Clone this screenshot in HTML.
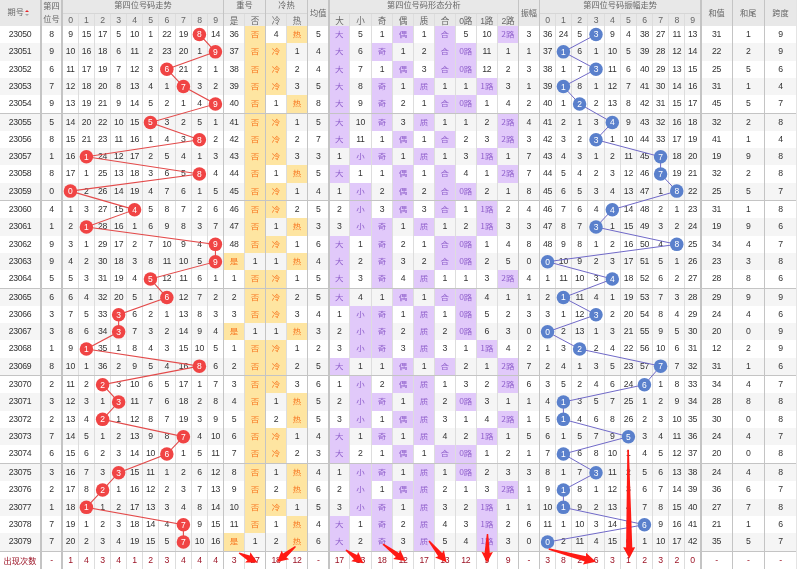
<!DOCTYPE html>
<html lang="zh-CN"><head><meta charset="utf-8"><title>第四位号码走势</title>
<style>
html,body{margin:0;padding:0;background:#fff;overflow:hidden;}
#w{position:relative;width:801px;height:569px;overflow:hidden;background:#fff;
 font-family:"Liberation Sans","Noto Sans CJK SC",sans-serif;font-size:8px;color:#333333;}
#w i{position:absolute;display:block;}
#w b{position:absolute;display:block;text-align:center;font-weight:normal;white-space:nowrap;font-size:8.7px;letter-spacing:-0.3px;}
#w b.h{font-size:8.2px;letter-spacing:0;}
#w b.hg{font-size:8.2px;letter-spacing:0;font-family:"Noto Sans CJK SC",sans-serif;}
#w b.hd{font-size:8.7px;}
#w b.hc{font-size:8.6px;letter-spacing:-0.2px;}
#w b.c{font-family:"Noto Sans CJK SC",sans-serif;font-size:8.5px;letter-spacing:0;transform:scaleY(.84);}
#w svg{position:absolute;left:0;top:0;}
#w .bt{font-family:"Liberation Sans",sans-serif;font-size:8.5px;fill:#fff;text-anchor:middle;}
.srt{display:inline-block;position:relative;width:6px;height:8px;vertical-align:middle;margin-left:1px;}
.srt u{position:absolute;left:0;width:0;height:0;border-left:2.5px solid transparent;border-right:2.5px solid transparent;}
.srt .up{top:0;border-bottom:2.5px solid #e02020;}
.srt .dn{top:4px;border-top:2.5px solid #bbb;}
</style></head><body>
<div id="w">
<i style="left:0.00px;top:0.00px;width:796.00px;height:25.80px;background:#e8e8e8"></i>
<i style="left:0.00px;top:43.17px;width:796.00px;height:17.37px;background:#f5f5f5"></i>
<i style="left:0.00px;top:77.91px;width:796.00px;height:17.37px;background:#f5f5f5"></i>
<i style="left:0.00px;top:113.95px;width:796.00px;height:17.15px;background:#f5f5f5"></i>
<i style="left:0.00px;top:148.25px;width:796.00px;height:17.15px;background:#f5f5f5"></i>
<i style="left:0.00px;top:182.55px;width:796.00px;height:17.15px;background:#f5f5f5"></i>
<i style="left:0.00px;top:218.34px;width:796.00px;height:17.34px;background:#f5f5f5"></i>
<i style="left:0.00px;top:253.03px;width:796.00px;height:17.34px;background:#f5f5f5"></i>
<i style="left:0.00px;top:289.01px;width:796.00px;height:17.14px;background:#f5f5f5"></i>
<i style="left:0.00px;top:323.29px;width:796.00px;height:17.14px;background:#f5f5f5"></i>
<i style="left:0.00px;top:357.56px;width:796.00px;height:17.14px;background:#f5f5f5"></i>
<i style="left:0.00px;top:393.34px;width:796.00px;height:17.34px;background:#f5f5f5"></i>
<i style="left:0.00px;top:428.03px;width:796.00px;height:17.34px;background:#f5f5f5"></i>
<i style="left:0.00px;top:464.01px;width:796.00px;height:17.34px;background:#f5f5f5"></i>
<i style="left:0.00px;top:498.69px;width:796.00px;height:17.34px;background:#f5f5f5"></i>
<i style="left:0.00px;top:533.38px;width:796.00px;height:17.34px;background:#f5f5f5"></i>
<i style="left:245.00px;top:25.80px;width:19.95px;height:17.37px;background:#fee5a1"></i>
<i style="left:287.00px;top:25.80px;width:19.95px;height:17.37px;background:#fee5a1"></i>
<i style="left:329.80px;top:25.80px;width:19.10px;height:17.37px;background:#e1c9fa"></i>
<i style="left:393.25px;top:25.80px;width:19.65px;height:17.37px;background:#e1c9fa"></i>
<i style="left:434.95px;top:25.80px;width:19.85px;height:17.37px;background:#e1c9fa"></i>
<i style="left:497.90px;top:25.80px;width:20.05px;height:17.37px;background:#e1c9fa"></i>
<i style="left:265.95px;top:43.17px;width:20.05px;height:17.37px;background:#fee5a1"></i>
<i style="left:245.00px;top:43.17px;width:19.95px;height:17.37px;background:#fee5a1"></i>
<i style="left:329.80px;top:43.17px;width:19.10px;height:17.37px;background:#e1c9fa"></i>
<i style="left:371.90px;top:43.17px;width:20.35px;height:17.37px;background:#e1c9fa"></i>
<i style="left:434.95px;top:43.17px;width:19.85px;height:17.37px;background:#e1c9fa"></i>
<i style="left:455.80px;top:43.17px;width:19.90px;height:17.37px;background:#e1c9fa"></i>
<i style="left:265.95px;top:60.54px;width:20.05px;height:17.37px;background:#fee5a1"></i>
<i style="left:245.00px;top:60.54px;width:19.95px;height:17.37px;background:#fee5a1"></i>
<i style="left:329.80px;top:60.54px;width:19.10px;height:17.37px;background:#e1c9fa"></i>
<i style="left:393.25px;top:60.54px;width:19.65px;height:17.37px;background:#e1c9fa"></i>
<i style="left:434.95px;top:60.54px;width:19.85px;height:17.37px;background:#e1c9fa"></i>
<i style="left:455.80px;top:60.54px;width:19.90px;height:17.37px;background:#e1c9fa"></i>
<i style="left:265.95px;top:77.91px;width:20.05px;height:17.37px;background:#fee5a1"></i>
<i style="left:245.00px;top:77.91px;width:19.95px;height:17.37px;background:#fee5a1"></i>
<i style="left:329.80px;top:77.91px;width:19.10px;height:17.37px;background:#e1c9fa"></i>
<i style="left:371.90px;top:77.91px;width:20.35px;height:17.37px;background:#e1c9fa"></i>
<i style="left:413.90px;top:77.91px;width:20.05px;height:17.37px;background:#e1c9fa"></i>
<i style="left:476.70px;top:77.91px;width:20.20px;height:17.37px;background:#e1c9fa"></i>
<i style="left:245.00px;top:95.28px;width:19.95px;height:17.37px;background:#fee5a1"></i>
<i style="left:287.00px;top:95.28px;width:19.95px;height:17.37px;background:#fee5a1"></i>
<i style="left:329.80px;top:95.28px;width:19.10px;height:17.37px;background:#e1c9fa"></i>
<i style="left:371.90px;top:95.28px;width:20.35px;height:17.37px;background:#e1c9fa"></i>
<i style="left:434.95px;top:95.28px;width:19.85px;height:17.37px;background:#e1c9fa"></i>
<i style="left:455.80px;top:95.28px;width:19.90px;height:17.37px;background:#e1c9fa"></i>
<i style="left:265.95px;top:113.95px;width:20.05px;height:17.15px;background:#fee5a1"></i>
<i style="left:245.00px;top:113.95px;width:19.95px;height:17.15px;background:#fee5a1"></i>
<i style="left:329.80px;top:113.95px;width:19.10px;height:17.15px;background:#e1c9fa"></i>
<i style="left:371.90px;top:113.95px;width:20.35px;height:17.15px;background:#e1c9fa"></i>
<i style="left:413.90px;top:113.95px;width:20.05px;height:17.15px;background:#e1c9fa"></i>
<i style="left:497.90px;top:113.95px;width:20.05px;height:17.15px;background:#e1c9fa"></i>
<i style="left:265.95px;top:131.10px;width:20.05px;height:17.15px;background:#fee5a1"></i>
<i style="left:245.00px;top:131.10px;width:19.95px;height:17.15px;background:#fee5a1"></i>
<i style="left:329.80px;top:131.10px;width:19.10px;height:17.15px;background:#e1c9fa"></i>
<i style="left:393.25px;top:131.10px;width:19.65px;height:17.15px;background:#e1c9fa"></i>
<i style="left:434.95px;top:131.10px;width:19.85px;height:17.15px;background:#e1c9fa"></i>
<i style="left:497.90px;top:131.10px;width:20.05px;height:17.15px;background:#e1c9fa"></i>
<i style="left:265.95px;top:148.25px;width:20.05px;height:17.15px;background:#fee5a1"></i>
<i style="left:245.00px;top:148.25px;width:19.95px;height:17.15px;background:#fee5a1"></i>
<i style="left:349.90px;top:148.25px;width:21.00px;height:17.15px;background:#e1c9fa"></i>
<i style="left:371.90px;top:148.25px;width:20.35px;height:17.15px;background:#e1c9fa"></i>
<i style="left:413.90px;top:148.25px;width:20.05px;height:17.15px;background:#e1c9fa"></i>
<i style="left:476.70px;top:148.25px;width:20.20px;height:17.15px;background:#e1c9fa"></i>
<i style="left:245.00px;top:165.40px;width:19.95px;height:17.15px;background:#fee5a1"></i>
<i style="left:287.00px;top:165.40px;width:19.95px;height:17.15px;background:#fee5a1"></i>
<i style="left:329.80px;top:165.40px;width:19.10px;height:17.15px;background:#e1c9fa"></i>
<i style="left:393.25px;top:165.40px;width:19.65px;height:17.15px;background:#e1c9fa"></i>
<i style="left:434.95px;top:165.40px;width:19.85px;height:17.15px;background:#e1c9fa"></i>
<i style="left:497.90px;top:165.40px;width:20.05px;height:17.15px;background:#e1c9fa"></i>
<i style="left:265.95px;top:182.55px;width:20.05px;height:17.15px;background:#fee5a1"></i>
<i style="left:245.00px;top:182.55px;width:19.95px;height:17.15px;background:#fee5a1"></i>
<i style="left:349.90px;top:182.55px;width:21.00px;height:17.15px;background:#e1c9fa"></i>
<i style="left:393.25px;top:182.55px;width:19.65px;height:17.15px;background:#e1c9fa"></i>
<i style="left:434.95px;top:182.55px;width:19.85px;height:17.15px;background:#e1c9fa"></i>
<i style="left:455.80px;top:182.55px;width:19.90px;height:17.15px;background:#e1c9fa"></i>
<i style="left:265.95px;top:201.00px;width:20.05px;height:17.34px;background:#fee5a1"></i>
<i style="left:245.00px;top:201.00px;width:19.95px;height:17.34px;background:#fee5a1"></i>
<i style="left:349.90px;top:201.00px;width:21.00px;height:17.34px;background:#e1c9fa"></i>
<i style="left:393.25px;top:201.00px;width:19.65px;height:17.34px;background:#e1c9fa"></i>
<i style="left:434.95px;top:201.00px;width:19.85px;height:17.34px;background:#e1c9fa"></i>
<i style="left:476.70px;top:201.00px;width:20.20px;height:17.34px;background:#e1c9fa"></i>
<i style="left:245.00px;top:218.34px;width:19.95px;height:17.34px;background:#fee5a1"></i>
<i style="left:287.00px;top:218.34px;width:19.95px;height:17.34px;background:#fee5a1"></i>
<i style="left:349.90px;top:218.34px;width:21.00px;height:17.34px;background:#e1c9fa"></i>
<i style="left:371.90px;top:218.34px;width:20.35px;height:17.34px;background:#e1c9fa"></i>
<i style="left:413.90px;top:218.34px;width:20.05px;height:17.34px;background:#e1c9fa"></i>
<i style="left:476.70px;top:218.34px;width:20.20px;height:17.34px;background:#e1c9fa"></i>
<i style="left:265.95px;top:235.68px;width:20.05px;height:17.34px;background:#fee5a1"></i>
<i style="left:245.00px;top:235.68px;width:19.95px;height:17.34px;background:#fee5a1"></i>
<i style="left:329.80px;top:235.68px;width:19.10px;height:17.34px;background:#e1c9fa"></i>
<i style="left:371.90px;top:235.68px;width:20.35px;height:17.34px;background:#e1c9fa"></i>
<i style="left:434.95px;top:235.68px;width:19.85px;height:17.34px;background:#e1c9fa"></i>
<i style="left:455.80px;top:235.68px;width:19.90px;height:17.34px;background:#e1c9fa"></i>
<i style="left:224.15px;top:253.03px;width:19.85px;height:17.34px;background:#fee5a1"></i>
<i style="left:287.00px;top:253.03px;width:19.95px;height:17.34px;background:#fee5a1"></i>
<i style="left:329.80px;top:253.03px;width:19.10px;height:17.34px;background:#e1c9fa"></i>
<i style="left:371.90px;top:253.03px;width:20.35px;height:17.34px;background:#e1c9fa"></i>
<i style="left:434.95px;top:253.03px;width:19.85px;height:17.34px;background:#e1c9fa"></i>
<i style="left:455.80px;top:253.03px;width:19.90px;height:17.34px;background:#e1c9fa"></i>
<i style="left:265.95px;top:270.37px;width:20.05px;height:17.34px;background:#fee5a1"></i>
<i style="left:245.00px;top:270.37px;width:19.95px;height:17.34px;background:#fee5a1"></i>
<i style="left:329.80px;top:270.37px;width:19.10px;height:17.34px;background:#e1c9fa"></i>
<i style="left:371.90px;top:270.37px;width:20.35px;height:17.34px;background:#e1c9fa"></i>
<i style="left:413.90px;top:270.37px;width:20.05px;height:17.34px;background:#e1c9fa"></i>
<i style="left:497.90px;top:270.37px;width:20.05px;height:17.34px;background:#e1c9fa"></i>
<i style="left:265.95px;top:289.01px;width:20.05px;height:17.14px;background:#fee5a1"></i>
<i style="left:245.00px;top:289.01px;width:19.95px;height:17.14px;background:#fee5a1"></i>
<i style="left:329.80px;top:289.01px;width:19.10px;height:17.14px;background:#e1c9fa"></i>
<i style="left:393.25px;top:289.01px;width:19.65px;height:17.14px;background:#e1c9fa"></i>
<i style="left:434.95px;top:289.01px;width:19.85px;height:17.14px;background:#e1c9fa"></i>
<i style="left:455.80px;top:289.01px;width:19.90px;height:17.14px;background:#e1c9fa"></i>
<i style="left:265.95px;top:306.15px;width:20.05px;height:17.14px;background:#fee5a1"></i>
<i style="left:245.00px;top:306.15px;width:19.95px;height:17.14px;background:#fee5a1"></i>
<i style="left:349.90px;top:306.15px;width:21.00px;height:17.14px;background:#e1c9fa"></i>
<i style="left:371.90px;top:306.15px;width:20.35px;height:17.14px;background:#e1c9fa"></i>
<i style="left:413.90px;top:306.15px;width:20.05px;height:17.14px;background:#e1c9fa"></i>
<i style="left:455.80px;top:306.15px;width:19.90px;height:17.14px;background:#e1c9fa"></i>
<i style="left:224.15px;top:323.29px;width:19.85px;height:17.14px;background:#fee5a1"></i>
<i style="left:287.00px;top:323.29px;width:19.95px;height:17.14px;background:#fee5a1"></i>
<i style="left:349.90px;top:323.29px;width:21.00px;height:17.14px;background:#e1c9fa"></i>
<i style="left:371.90px;top:323.29px;width:20.35px;height:17.14px;background:#e1c9fa"></i>
<i style="left:413.90px;top:323.29px;width:20.05px;height:17.14px;background:#e1c9fa"></i>
<i style="left:455.80px;top:323.29px;width:19.90px;height:17.14px;background:#e1c9fa"></i>
<i style="left:265.95px;top:340.42px;width:20.05px;height:17.14px;background:#fee5a1"></i>
<i style="left:245.00px;top:340.42px;width:19.95px;height:17.14px;background:#fee5a1"></i>
<i style="left:349.90px;top:340.42px;width:21.00px;height:17.14px;background:#e1c9fa"></i>
<i style="left:371.90px;top:340.42px;width:20.35px;height:17.14px;background:#e1c9fa"></i>
<i style="left:413.90px;top:340.42px;width:20.05px;height:17.14px;background:#e1c9fa"></i>
<i style="left:476.70px;top:340.42px;width:20.20px;height:17.14px;background:#e1c9fa"></i>
<i style="left:265.95px;top:357.56px;width:20.05px;height:17.14px;background:#fee5a1"></i>
<i style="left:245.00px;top:357.56px;width:19.95px;height:17.14px;background:#fee5a1"></i>
<i style="left:329.80px;top:357.56px;width:19.10px;height:17.14px;background:#e1c9fa"></i>
<i style="left:393.25px;top:357.56px;width:19.65px;height:17.14px;background:#e1c9fa"></i>
<i style="left:434.95px;top:357.56px;width:19.85px;height:17.14px;background:#e1c9fa"></i>
<i style="left:497.90px;top:357.56px;width:20.05px;height:17.14px;background:#e1c9fa"></i>
<i style="left:265.95px;top:376.00px;width:20.05px;height:17.34px;background:#fee5a1"></i>
<i style="left:245.00px;top:376.00px;width:19.95px;height:17.34px;background:#fee5a1"></i>
<i style="left:349.90px;top:376.00px;width:21.00px;height:17.34px;background:#e1c9fa"></i>
<i style="left:393.25px;top:376.00px;width:19.65px;height:17.34px;background:#e1c9fa"></i>
<i style="left:413.90px;top:376.00px;width:20.05px;height:17.34px;background:#e1c9fa"></i>
<i style="left:497.90px;top:376.00px;width:20.05px;height:17.34px;background:#e1c9fa"></i>
<i style="left:245.00px;top:393.34px;width:19.95px;height:17.34px;background:#fee5a1"></i>
<i style="left:287.00px;top:393.34px;width:19.95px;height:17.34px;background:#fee5a1"></i>
<i style="left:349.90px;top:393.34px;width:21.00px;height:17.34px;background:#e1c9fa"></i>
<i style="left:371.90px;top:393.34px;width:20.35px;height:17.34px;background:#e1c9fa"></i>
<i style="left:413.90px;top:393.34px;width:20.05px;height:17.34px;background:#e1c9fa"></i>
<i style="left:455.80px;top:393.34px;width:19.90px;height:17.34px;background:#e1c9fa"></i>
<i style="left:245.00px;top:410.68px;width:19.95px;height:17.34px;background:#fee5a1"></i>
<i style="left:287.00px;top:410.68px;width:19.95px;height:17.34px;background:#fee5a1"></i>
<i style="left:349.90px;top:410.68px;width:21.00px;height:17.34px;background:#e1c9fa"></i>
<i style="left:393.25px;top:410.68px;width:19.65px;height:17.34px;background:#e1c9fa"></i>
<i style="left:413.90px;top:410.68px;width:20.05px;height:17.34px;background:#e1c9fa"></i>
<i style="left:497.90px;top:410.68px;width:20.05px;height:17.34px;background:#e1c9fa"></i>
<i style="left:265.95px;top:428.03px;width:20.05px;height:17.34px;background:#fee5a1"></i>
<i style="left:245.00px;top:428.03px;width:19.95px;height:17.34px;background:#fee5a1"></i>
<i style="left:329.80px;top:428.03px;width:19.10px;height:17.34px;background:#e1c9fa"></i>
<i style="left:371.90px;top:428.03px;width:20.35px;height:17.34px;background:#e1c9fa"></i>
<i style="left:413.90px;top:428.03px;width:20.05px;height:17.34px;background:#e1c9fa"></i>
<i style="left:476.70px;top:428.03px;width:20.20px;height:17.34px;background:#e1c9fa"></i>
<i style="left:265.95px;top:445.37px;width:20.05px;height:17.34px;background:#fee5a1"></i>
<i style="left:245.00px;top:445.37px;width:19.95px;height:17.34px;background:#fee5a1"></i>
<i style="left:329.80px;top:445.37px;width:19.10px;height:17.34px;background:#e1c9fa"></i>
<i style="left:393.25px;top:445.37px;width:19.65px;height:17.34px;background:#e1c9fa"></i>
<i style="left:434.95px;top:445.37px;width:19.85px;height:17.34px;background:#e1c9fa"></i>
<i style="left:455.80px;top:445.37px;width:19.90px;height:17.34px;background:#e1c9fa"></i>
<i style="left:245.00px;top:464.01px;width:19.95px;height:17.34px;background:#fee5a1"></i>
<i style="left:287.00px;top:464.01px;width:19.95px;height:17.34px;background:#fee5a1"></i>
<i style="left:349.90px;top:464.01px;width:21.00px;height:17.34px;background:#e1c9fa"></i>
<i style="left:371.90px;top:464.01px;width:20.35px;height:17.34px;background:#e1c9fa"></i>
<i style="left:413.90px;top:464.01px;width:20.05px;height:17.34px;background:#e1c9fa"></i>
<i style="left:455.80px;top:464.01px;width:19.90px;height:17.34px;background:#e1c9fa"></i>
<i style="left:245.00px;top:481.35px;width:19.95px;height:17.34px;background:#fee5a1"></i>
<i style="left:287.00px;top:481.35px;width:19.95px;height:17.34px;background:#fee5a1"></i>
<i style="left:349.90px;top:481.35px;width:21.00px;height:17.34px;background:#e1c9fa"></i>
<i style="left:393.25px;top:481.35px;width:19.65px;height:17.34px;background:#e1c9fa"></i>
<i style="left:413.90px;top:481.35px;width:20.05px;height:17.34px;background:#e1c9fa"></i>
<i style="left:497.90px;top:481.35px;width:20.05px;height:17.34px;background:#e1c9fa"></i>
<i style="left:265.95px;top:498.69px;width:20.05px;height:17.34px;background:#fee5a1"></i>
<i style="left:245.00px;top:498.69px;width:19.95px;height:17.34px;background:#fee5a1"></i>
<i style="left:349.90px;top:498.69px;width:21.00px;height:17.34px;background:#e1c9fa"></i>
<i style="left:371.90px;top:498.69px;width:20.35px;height:17.34px;background:#e1c9fa"></i>
<i style="left:413.90px;top:498.69px;width:20.05px;height:17.34px;background:#e1c9fa"></i>
<i style="left:476.70px;top:498.69px;width:20.20px;height:17.34px;background:#e1c9fa"></i>
<i style="left:245.00px;top:516.04px;width:19.95px;height:17.34px;background:#fee5a1"></i>
<i style="left:287.00px;top:516.04px;width:19.95px;height:17.34px;background:#fee5a1"></i>
<i style="left:329.80px;top:516.04px;width:19.10px;height:17.34px;background:#e1c9fa"></i>
<i style="left:371.90px;top:516.04px;width:20.35px;height:17.34px;background:#e1c9fa"></i>
<i style="left:413.90px;top:516.04px;width:20.05px;height:17.34px;background:#e1c9fa"></i>
<i style="left:476.70px;top:516.04px;width:20.20px;height:17.34px;background:#e1c9fa"></i>
<i style="left:224.15px;top:533.38px;width:19.85px;height:17.34px;background:#fee5a1"></i>
<i style="left:287.00px;top:533.38px;width:19.95px;height:17.34px;background:#fee5a1"></i>
<i style="left:329.80px;top:533.38px;width:19.10px;height:17.34px;background:#e1c9fa"></i>
<i style="left:371.90px;top:533.38px;width:20.35px;height:17.34px;background:#e1c9fa"></i>
<i style="left:413.90px;top:533.38px;width:20.05px;height:17.34px;background:#e1c9fa"></i>
<i style="left:476.70px;top:533.38px;width:20.20px;height:17.34px;background:#e1c9fa"></i>
<i style="left:40.00px;top:0.00px;width:2.00px;height:569.00px;background:#c4c4c4"></i>
<i style="left:61.00px;top:0.00px;width:2.00px;height:569.00px;background:#c4c4c4"></i>
<i style="left:77.80px;top:13.30px;width:1.00px;height:555.70px;background:#dddddd"></i>
<i style="left:94.00px;top:13.30px;width:1.00px;height:555.70px;background:#dddddd"></i>
<i style="left:110.20px;top:13.30px;width:1.00px;height:555.70px;background:#dddddd"></i>
<i style="left:126.10px;top:13.30px;width:1.00px;height:555.70px;background:#dddddd"></i>
<i style="left:142.00px;top:13.30px;width:1.00px;height:555.70px;background:#dddddd"></i>
<i style="left:157.90px;top:13.30px;width:1.00px;height:555.70px;background:#dddddd"></i>
<i style="left:174.80px;top:13.30px;width:1.00px;height:555.70px;background:#dddddd"></i>
<i style="left:191.00px;top:13.30px;width:1.00px;height:555.70px;background:#dddddd"></i>
<i style="left:206.80px;top:13.30px;width:1.00px;height:555.70px;background:#dddddd"></i>
<i style="left:223.05px;top:0.00px;width:1.10px;height:569.00px;background:#c4c4c4"></i>
<i style="left:244.00px;top:13.30px;width:1.00px;height:555.70px;background:#dddddd"></i>
<i style="left:264.95px;top:0.00px;width:1.00px;height:569.00px;background:#c4c4c4"></i>
<i style="left:286.00px;top:13.30px;width:1.00px;height:555.70px;background:#dddddd"></i>
<i style="left:306.95px;top:0.00px;width:1.30px;height:569.00px;background:#c4c4c4"></i>
<i style="left:328.10px;top:0.00px;width:1.70px;height:569.00px;background:#c4c4c4"></i>
<i style="left:348.90px;top:13.30px;width:1.00px;height:555.70px;background:#dddddd"></i>
<i style="left:370.90px;top:13.30px;width:1.00px;height:555.70px;background:#dddddd"></i>
<i style="left:392.25px;top:13.30px;width:1.00px;height:555.70px;background:#dddddd"></i>
<i style="left:412.90px;top:13.30px;width:1.00px;height:555.70px;background:#dddddd"></i>
<i style="left:433.95px;top:13.30px;width:1.00px;height:555.70px;background:#dddddd"></i>
<i style="left:454.80px;top:13.30px;width:1.00px;height:555.70px;background:#dddddd"></i>
<i style="left:475.70px;top:13.30px;width:1.00px;height:555.70px;background:#dddddd"></i>
<i style="left:496.90px;top:13.30px;width:1.00px;height:555.70px;background:#dddddd"></i>
<i style="left:517.95px;top:0.00px;width:1.10px;height:569.00px;background:#c4c4c4"></i>
<i style="left:538.70px;top:0.00px;width:1.50px;height:569.00px;background:#c4c4c4"></i>
<i style="left:554.90px;top:13.30px;width:1.00px;height:555.70px;background:#dddddd"></i>
<i style="left:570.90px;top:13.30px;width:1.00px;height:555.70px;background:#dddddd"></i>
<i style="left:587.30px;top:13.30px;width:1.00px;height:555.70px;background:#dddddd"></i>
<i style="left:603.70px;top:13.30px;width:1.00px;height:555.70px;background:#dddddd"></i>
<i style="left:619.90px;top:13.30px;width:1.00px;height:555.70px;background:#dddddd"></i>
<i style="left:635.90px;top:13.30px;width:1.00px;height:555.70px;background:#dddddd"></i>
<i style="left:652.00px;top:13.30px;width:1.00px;height:555.70px;background:#dddddd"></i>
<i style="left:668.20px;top:13.30px;width:1.00px;height:555.70px;background:#dddddd"></i>
<i style="left:684.30px;top:13.30px;width:1.00px;height:555.70px;background:#dddddd"></i>
<i style="left:699.95px;top:0.00px;width:1.60px;height:569.00px;background:#c4c4c4"></i>
<i style="left:731.70px;top:0.00px;width:1.00px;height:569.00px;background:#c4c4c4"></i>
<i style="left:763.90px;top:0.00px;width:1.00px;height:569.00px;background:#c4c4c4"></i>
<i style="left:796.00px;top:0.00px;width:1.00px;height:569.00px;background:#e4e4e4"></i>
<i style="left:63.00px;top:12.80px;width:160.05px;height:1.00px;background:#d6d6d6"></i>
<i style="left:224.15px;top:12.80px;width:40.80px;height:1.00px;background:#d6d6d6"></i>
<i style="left:265.95px;top:12.80px;width:41.00px;height:1.00px;background:#d6d6d6"></i>
<i style="left:329.80px;top:12.80px;width:188.15px;height:1.00px;background:#d6d6d6"></i>
<i style="left:540.20px;top:12.80px;width:159.75px;height:1.00px;background:#d6d6d6"></i>
<i style="left:0.00px;top:112.65px;width:796.00px;height:1.30px;background:#c4c4c4"></i>
<i style="left:0.00px;top:199.70px;width:796.00px;height:1.30px;background:#c4c4c4"></i>
<i style="left:0.00px;top:287.71px;width:796.00px;height:1.30px;background:#c4c4c4"></i>
<i style="left:0.00px;top:374.70px;width:796.00px;height:1.30px;background:#c4c4c4"></i>
<i style="left:0.00px;top:462.71px;width:796.00px;height:1.30px;background:#c4c4c4"></i>
<i style="left:0.00px;top:550.72px;width:796.00px;height:1.30px;background:#c4c4c4"></i>
<b class="h" style="left:0.00px;top:0.00px;width:31.60px;height:25.80px;line-height:25.80px;color:#666666">期号</b>
<i style="left:24.9px;top:9.9px;width:0;height:0;border-left:2.6px solid transparent;border-right:2.6px solid transparent;border-bottom:2.3px solid #e8262a"></i>
<i style="left:24.9px;top:13.7px;width:0;height:0;border-left:2.6px solid transparent;border-right:2.6px solid transparent;border-top:2.3px solid #a8a8a8"></i>
<b class="h" style="left:42.0px;top:0.8px;width:19.0px;height:25.8px;line-height:12.7px;color:#666666">第四<br>位号</b>
<b class="hg" style="left:63.00px;top:-1.80px;width:160.05px;height:13.30px;line-height:13.30px;color:#666666">第四位号码走势</b>
<b class="hd" style="left:63.00px;top:14.10px;width:14.80px;height:12.50px;line-height:12.50px;color:#666666">0</b>
<b class="hd" style="left:78.80px;top:14.10px;width:15.20px;height:12.50px;line-height:12.50px;color:#666666">1</b>
<b class="hd" style="left:95.00px;top:14.10px;width:15.20px;height:12.50px;line-height:12.50px;color:#666666">2</b>
<b class="hd" style="left:111.20px;top:14.10px;width:14.90px;height:12.50px;line-height:12.50px;color:#666666">3</b>
<b class="hd" style="left:127.10px;top:14.10px;width:14.90px;height:12.50px;line-height:12.50px;color:#666666">4</b>
<b class="hd" style="left:143.00px;top:14.10px;width:14.90px;height:12.50px;line-height:12.50px;color:#666666">5</b>
<b class="hd" style="left:158.90px;top:14.10px;width:15.90px;height:12.50px;line-height:12.50px;color:#666666">6</b>
<b class="hd" style="left:175.80px;top:14.10px;width:15.20px;height:12.50px;line-height:12.50px;color:#666666">7</b>
<b class="hd" style="left:192.00px;top:14.10px;width:14.80px;height:12.50px;line-height:12.50px;color:#666666">8</b>
<b class="hd" style="left:207.80px;top:14.10px;width:15.25px;height:12.50px;line-height:12.50px;color:#666666">9</b>
<b class="hg" style="left:224.15px;top:-1.80px;width:40.80px;height:13.30px;line-height:13.30px;color:#666666">重号</b>
<b class="hg" style="left:265.95px;top:-1.80px;width:41.00px;height:13.30px;line-height:13.30px;color:#666666">冷热</b>
<b class="hc" style="left:224.15px;top:14.90px;width:19.85px;height:12.50px;line-height:12.50px;color:#666666">是</b>
<b class="hc" style="left:245.00px;top:14.90px;width:19.95px;height:12.50px;line-height:12.50px;color:#666666">否</b>
<b class="hc" style="left:265.95px;top:14.90px;width:20.05px;height:12.50px;line-height:12.50px;color:#666666">冷</b>
<b class="hc" style="left:287.00px;top:14.90px;width:19.95px;height:12.50px;line-height:12.50px;color:#666666">热</b>
<b class="h" style="left:308.25px;top:0.60px;width:19.85px;height:25.80px;line-height:25.80px;color:#666666">均值</b>
<b class="hg" style="left:329.80px;top:-1.80px;width:188.15px;height:13.30px;line-height:13.30px;color:#666666">第四位号码形态分析</b>
<b class="hc" style="left:329.80px;top:14.90px;width:19.10px;height:12.50px;line-height:12.50px;color:#666666">大</b>
<b class="hc" style="left:349.90px;top:14.90px;width:21.00px;height:12.50px;line-height:12.50px;color:#666666">小</b>
<b class="hc" style="left:371.90px;top:14.90px;width:20.35px;height:12.50px;line-height:12.50px;color:#666666">奇</b>
<b class="hc" style="left:393.25px;top:14.90px;width:19.65px;height:12.50px;line-height:12.50px;color:#666666">偶</b>
<b class="hc" style="left:413.90px;top:14.90px;width:20.05px;height:12.50px;line-height:12.50px;color:#666666">质</b>
<b class="hc" style="left:434.95px;top:14.90px;width:19.85px;height:12.50px;line-height:12.50px;color:#666666">合</b>
<b class="hc" style="left:455.80px;top:14.90px;width:19.90px;height:12.50px;line-height:12.50px;color:#666666">0路</b>
<b class="hc" style="left:476.70px;top:14.90px;width:20.20px;height:12.50px;line-height:12.50px;color:#666666">1路</b>
<b class="hc" style="left:497.90px;top:14.90px;width:20.05px;height:12.50px;line-height:12.50px;color:#666666">2路</b>
<b class="h" style="left:519.05px;top:0.60px;width:19.65px;height:25.80px;line-height:25.80px;color:#666666">振幅</b>
<b class="hg" style="left:540.20px;top:-1.80px;width:159.75px;height:13.30px;line-height:13.30px;color:#666666">第四位号码振幅走势</b>
<b class="hd" style="left:540.20px;top:14.10px;width:14.70px;height:12.50px;line-height:12.50px;color:#666666">0</b>
<b class="hd" style="left:555.90px;top:14.10px;width:15.00px;height:12.50px;line-height:12.50px;color:#666666">1</b>
<b class="hd" style="left:571.90px;top:14.10px;width:15.40px;height:12.50px;line-height:12.50px;color:#666666">2</b>
<b class="hd" style="left:588.30px;top:14.10px;width:15.40px;height:12.50px;line-height:12.50px;color:#666666">3</b>
<b class="hd" style="left:604.70px;top:14.10px;width:15.20px;height:12.50px;line-height:12.50px;color:#666666">4</b>
<b class="hd" style="left:620.90px;top:14.10px;width:15.00px;height:12.50px;line-height:12.50px;color:#666666">5</b>
<b class="hd" style="left:636.90px;top:14.10px;width:15.10px;height:12.50px;line-height:12.50px;color:#666666">6</b>
<b class="hd" style="left:653.00px;top:14.10px;width:15.20px;height:12.50px;line-height:12.50px;color:#666666">7</b>
<b class="hd" style="left:669.20px;top:14.10px;width:15.10px;height:12.50px;line-height:12.50px;color:#666666">8</b>
<b class="hd" style="left:685.30px;top:14.10px;width:14.65px;height:12.50px;line-height:12.50px;color:#666666">9</b>
<b class="h" style="left:701.55px;top:0.60px;width:30.15px;height:25.80px;line-height:25.80px;color:#666666">和值</b>
<b class="h" style="left:732.70px;top:0.60px;width:31.20px;height:25.80px;line-height:25.80px;color:#666666">和尾</b>
<b class="h" style="left:764.90px;top:0.60px;width:31.10px;height:25.80px;line-height:25.80px;color:#666666">跨度</b>
<b style="left:0.00px;top:25.80px;width:40.00px;height:17.37px;line-height:17.37px">23050</b>
<b style="left:42.00px;top:25.80px;width:19.00px;height:17.37px;line-height:17.37px">8</b>
<b style="left:63.00px;top:25.80px;width:14.80px;height:17.37px;line-height:17.37px">9</b>
<b style="left:78.80px;top:25.80px;width:15.20px;height:17.37px;line-height:17.37px">15</b>
<b style="left:95.00px;top:25.80px;width:15.20px;height:17.37px;line-height:17.37px">17</b>
<b style="left:111.20px;top:25.80px;width:14.90px;height:17.37px;line-height:17.37px">5</b>
<b style="left:127.10px;top:25.80px;width:14.90px;height:17.37px;line-height:17.37px">10</b>
<b style="left:143.00px;top:25.80px;width:14.90px;height:17.37px;line-height:17.37px">1</b>
<b style="left:158.90px;top:25.80px;width:15.90px;height:17.37px;line-height:17.37px">22</b>
<b style="left:175.80px;top:25.80px;width:15.20px;height:17.37px;line-height:17.37px">19</b>
<b style="left:207.80px;top:25.80px;width:15.25px;height:17.37px;line-height:17.37px">14</b>
<b style="left:224.15px;top:25.80px;width:19.85px;height:17.37px;line-height:17.37px">36</b>
<b style="left:265.95px;top:25.80px;width:20.05px;height:17.37px;line-height:17.37px">4</b>
<b class="c" style="left:245.00px;top:25.80px;width:19.95px;height:17.37px;line-height:17.37px;color:#f7731c">否</b>
<b class="c" style="left:287.00px;top:25.80px;width:19.95px;height:17.37px;line-height:17.37px;color:#f7731c">热</b>
<b style="left:308.25px;top:25.80px;width:19.85px;height:17.37px;line-height:17.37px">5</b>
<b class="c" style="left:329.80px;top:25.80px;width:19.10px;height:17.37px;line-height:17.37px;color:#9060cc">大</b>
<b style="left:349.90px;top:25.80px;width:21.00px;height:17.37px;line-height:17.37px">5</b>
<b style="left:371.90px;top:25.80px;width:20.35px;height:17.37px;line-height:17.37px">1</b>
<b class="c" style="left:393.25px;top:25.80px;width:19.65px;height:17.37px;line-height:17.37px;color:#9060cc">偶</b>
<b style="left:413.90px;top:25.80px;width:20.05px;height:17.37px;line-height:17.37px">1</b>
<b class="c" style="left:434.95px;top:25.80px;width:19.85px;height:17.37px;line-height:17.37px;color:#9060cc">合</b>
<b style="left:455.80px;top:25.80px;width:19.90px;height:17.37px;line-height:17.37px">5</b>
<b style="left:476.70px;top:25.80px;width:20.20px;height:17.37px;line-height:17.37px">10</b>
<b class="c" style="left:497.90px;top:25.80px;width:20.05px;height:17.37px;line-height:17.37px;color:#9060cc">2路</b>
<b style="left:519.05px;top:25.80px;width:19.65px;height:17.37px;line-height:17.37px">3</b>
<b style="left:540.20px;top:25.80px;width:14.70px;height:17.37px;line-height:17.37px">36</b>
<b style="left:555.90px;top:25.80px;width:15.00px;height:17.37px;line-height:17.37px">24</b>
<b style="left:571.90px;top:25.80px;width:15.40px;height:17.37px;line-height:17.37px">5</b>
<b style="left:604.70px;top:25.80px;width:15.20px;height:17.37px;line-height:17.37px">9</b>
<b style="left:620.90px;top:25.80px;width:15.00px;height:17.37px;line-height:17.37px">4</b>
<b style="left:636.90px;top:25.80px;width:15.10px;height:17.37px;line-height:17.37px">38</b>
<b style="left:653.00px;top:25.80px;width:15.20px;height:17.37px;line-height:17.37px">27</b>
<b style="left:669.20px;top:25.80px;width:15.10px;height:17.37px;line-height:17.37px">11</b>
<b style="left:685.30px;top:25.80px;width:14.65px;height:17.37px;line-height:17.37px">13</b>
<b style="left:701.55px;top:25.80px;width:30.15px;height:17.37px;line-height:17.37px">31</b>
<b style="left:732.70px;top:25.80px;width:31.20px;height:17.37px;line-height:17.37px">1</b>
<b style="left:764.90px;top:25.80px;width:31.10px;height:17.37px;line-height:17.37px">9</b>
<b style="left:0.00px;top:43.17px;width:40.00px;height:17.37px;line-height:17.37px">23051</b>
<b style="left:42.00px;top:43.17px;width:19.00px;height:17.37px;line-height:17.37px">9</b>
<b style="left:63.00px;top:43.17px;width:14.80px;height:17.37px;line-height:17.37px">10</b>
<b style="left:78.80px;top:43.17px;width:15.20px;height:17.37px;line-height:17.37px">16</b>
<b style="left:95.00px;top:43.17px;width:15.20px;height:17.37px;line-height:17.37px">18</b>
<b style="left:111.20px;top:43.17px;width:14.90px;height:17.37px;line-height:17.37px">6</b>
<b style="left:127.10px;top:43.17px;width:14.90px;height:17.37px;line-height:17.37px">11</b>
<b style="left:143.00px;top:43.17px;width:14.90px;height:17.37px;line-height:17.37px">2</b>
<b style="left:158.90px;top:43.17px;width:15.90px;height:17.37px;line-height:17.37px">23</b>
<b style="left:175.80px;top:43.17px;width:15.20px;height:17.37px;line-height:17.37px">20</b>
<b style="left:192.00px;top:43.17px;width:14.80px;height:17.37px;line-height:17.37px">1</b>
<b style="left:224.15px;top:43.17px;width:19.85px;height:17.37px;line-height:17.37px">37</b>
<b class="c" style="left:265.95px;top:43.17px;width:20.05px;height:17.37px;line-height:17.37px;color:#f7731c">冷</b>
<b class="c" style="left:245.00px;top:43.17px;width:19.95px;height:17.37px;line-height:17.37px;color:#f7731c">否</b>
<b style="left:287.00px;top:43.17px;width:19.95px;height:17.37px;line-height:17.37px">1</b>
<b style="left:308.25px;top:43.17px;width:19.85px;height:17.37px;line-height:17.37px">4</b>
<b class="c" style="left:329.80px;top:43.17px;width:19.10px;height:17.37px;line-height:17.37px;color:#9060cc">大</b>
<b style="left:349.90px;top:43.17px;width:21.00px;height:17.37px;line-height:17.37px">6</b>
<b class="c" style="left:371.90px;top:43.17px;width:20.35px;height:17.37px;line-height:17.37px;color:#9060cc">奇</b>
<b style="left:393.25px;top:43.17px;width:19.65px;height:17.37px;line-height:17.37px">1</b>
<b style="left:413.90px;top:43.17px;width:20.05px;height:17.37px;line-height:17.37px">2</b>
<b class="c" style="left:434.95px;top:43.17px;width:19.85px;height:17.37px;line-height:17.37px;color:#9060cc">合</b>
<b class="c" style="left:455.80px;top:43.17px;width:19.90px;height:17.37px;line-height:17.37px;color:#9060cc">0路</b>
<b style="left:476.70px;top:43.17px;width:20.20px;height:17.37px;line-height:17.37px">11</b>
<b style="left:497.90px;top:43.17px;width:20.05px;height:17.37px;line-height:17.37px">1</b>
<b style="left:519.05px;top:43.17px;width:19.65px;height:17.37px;line-height:17.37px">1</b>
<b style="left:540.20px;top:43.17px;width:14.70px;height:17.37px;line-height:17.37px">37</b>
<b style="left:571.90px;top:43.17px;width:15.40px;height:17.37px;line-height:17.37px">6</b>
<b style="left:588.30px;top:43.17px;width:15.40px;height:17.37px;line-height:17.37px">1</b>
<b style="left:604.70px;top:43.17px;width:15.20px;height:17.37px;line-height:17.37px">10</b>
<b style="left:620.90px;top:43.17px;width:15.00px;height:17.37px;line-height:17.37px">5</b>
<b style="left:636.90px;top:43.17px;width:15.10px;height:17.37px;line-height:17.37px">39</b>
<b style="left:653.00px;top:43.17px;width:15.20px;height:17.37px;line-height:17.37px">28</b>
<b style="left:669.20px;top:43.17px;width:15.10px;height:17.37px;line-height:17.37px">12</b>
<b style="left:685.30px;top:43.17px;width:14.65px;height:17.37px;line-height:17.37px">14</b>
<b style="left:701.55px;top:43.17px;width:30.15px;height:17.37px;line-height:17.37px">22</b>
<b style="left:732.70px;top:43.17px;width:31.20px;height:17.37px;line-height:17.37px">2</b>
<b style="left:764.90px;top:43.17px;width:31.10px;height:17.37px;line-height:17.37px">9</b>
<b style="left:0.00px;top:60.54px;width:40.00px;height:17.37px;line-height:17.37px">23052</b>
<b style="left:42.00px;top:60.54px;width:19.00px;height:17.37px;line-height:17.37px">6</b>
<b style="left:63.00px;top:60.54px;width:14.80px;height:17.37px;line-height:17.37px">11</b>
<b style="left:78.80px;top:60.54px;width:15.20px;height:17.37px;line-height:17.37px">17</b>
<b style="left:95.00px;top:60.54px;width:15.20px;height:17.37px;line-height:17.37px">19</b>
<b style="left:111.20px;top:60.54px;width:14.90px;height:17.37px;line-height:17.37px">7</b>
<b style="left:127.10px;top:60.54px;width:14.90px;height:17.37px;line-height:17.37px">12</b>
<b style="left:143.00px;top:60.54px;width:14.90px;height:17.37px;line-height:17.37px">3</b>
<b style="left:175.80px;top:60.54px;width:15.20px;height:17.37px;line-height:17.37px">21</b>
<b style="left:192.00px;top:60.54px;width:14.80px;height:17.37px;line-height:17.37px">2</b>
<b style="left:207.80px;top:60.54px;width:15.25px;height:17.37px;line-height:17.37px">1</b>
<b style="left:224.15px;top:60.54px;width:19.85px;height:17.37px;line-height:17.37px">38</b>
<b class="c" style="left:265.95px;top:60.54px;width:20.05px;height:17.37px;line-height:17.37px;color:#f7731c">冷</b>
<b class="c" style="left:245.00px;top:60.54px;width:19.95px;height:17.37px;line-height:17.37px;color:#f7731c">否</b>
<b style="left:287.00px;top:60.54px;width:19.95px;height:17.37px;line-height:17.37px">2</b>
<b style="left:308.25px;top:60.54px;width:19.85px;height:17.37px;line-height:17.37px">4</b>
<b class="c" style="left:329.80px;top:60.54px;width:19.10px;height:17.37px;line-height:17.37px;color:#9060cc">大</b>
<b style="left:349.90px;top:60.54px;width:21.00px;height:17.37px;line-height:17.37px">7</b>
<b style="left:371.90px;top:60.54px;width:20.35px;height:17.37px;line-height:17.37px">1</b>
<b class="c" style="left:393.25px;top:60.54px;width:19.65px;height:17.37px;line-height:17.37px;color:#9060cc">偶</b>
<b style="left:413.90px;top:60.54px;width:20.05px;height:17.37px;line-height:17.37px">3</b>
<b class="c" style="left:434.95px;top:60.54px;width:19.85px;height:17.37px;line-height:17.37px;color:#9060cc">合</b>
<b class="c" style="left:455.80px;top:60.54px;width:19.90px;height:17.37px;line-height:17.37px;color:#9060cc">0路</b>
<b style="left:476.70px;top:60.54px;width:20.20px;height:17.37px;line-height:17.37px">12</b>
<b style="left:497.90px;top:60.54px;width:20.05px;height:17.37px;line-height:17.37px">2</b>
<b style="left:519.05px;top:60.54px;width:19.65px;height:17.37px;line-height:17.37px">3</b>
<b style="left:540.20px;top:60.54px;width:14.70px;height:17.37px;line-height:17.37px">38</b>
<b style="left:555.90px;top:60.54px;width:15.00px;height:17.37px;line-height:17.37px">1</b>
<b style="left:571.90px;top:60.54px;width:15.40px;height:17.37px;line-height:17.37px">7</b>
<b style="left:604.70px;top:60.54px;width:15.20px;height:17.37px;line-height:17.37px">11</b>
<b style="left:620.90px;top:60.54px;width:15.00px;height:17.37px;line-height:17.37px">6</b>
<b style="left:636.90px;top:60.54px;width:15.10px;height:17.37px;line-height:17.37px">40</b>
<b style="left:653.00px;top:60.54px;width:15.20px;height:17.37px;line-height:17.37px">29</b>
<b style="left:669.20px;top:60.54px;width:15.10px;height:17.37px;line-height:17.37px">13</b>
<b style="left:685.30px;top:60.54px;width:14.65px;height:17.37px;line-height:17.37px">15</b>
<b style="left:701.55px;top:60.54px;width:30.15px;height:17.37px;line-height:17.37px">25</b>
<b style="left:732.70px;top:60.54px;width:31.20px;height:17.37px;line-height:17.37px">5</b>
<b style="left:764.90px;top:60.54px;width:31.10px;height:17.37px;line-height:17.37px">6</b>
<b style="left:0.00px;top:77.91px;width:40.00px;height:17.37px;line-height:17.37px">23053</b>
<b style="left:42.00px;top:77.91px;width:19.00px;height:17.37px;line-height:17.37px">7</b>
<b style="left:63.00px;top:77.91px;width:14.80px;height:17.37px;line-height:17.37px">12</b>
<b style="left:78.80px;top:77.91px;width:15.20px;height:17.37px;line-height:17.37px">18</b>
<b style="left:95.00px;top:77.91px;width:15.20px;height:17.37px;line-height:17.37px">20</b>
<b style="left:111.20px;top:77.91px;width:14.90px;height:17.37px;line-height:17.37px">8</b>
<b style="left:127.10px;top:77.91px;width:14.90px;height:17.37px;line-height:17.37px">13</b>
<b style="left:143.00px;top:77.91px;width:14.90px;height:17.37px;line-height:17.37px">4</b>
<b style="left:158.90px;top:77.91px;width:15.90px;height:17.37px;line-height:17.37px">1</b>
<b style="left:192.00px;top:77.91px;width:14.80px;height:17.37px;line-height:17.37px">3</b>
<b style="left:207.80px;top:77.91px;width:15.25px;height:17.37px;line-height:17.37px">2</b>
<b style="left:224.15px;top:77.91px;width:19.85px;height:17.37px;line-height:17.37px">39</b>
<b class="c" style="left:265.95px;top:77.91px;width:20.05px;height:17.37px;line-height:17.37px;color:#f7731c">冷</b>
<b class="c" style="left:245.00px;top:77.91px;width:19.95px;height:17.37px;line-height:17.37px;color:#f7731c">否</b>
<b style="left:287.00px;top:77.91px;width:19.95px;height:17.37px;line-height:17.37px">3</b>
<b style="left:308.25px;top:77.91px;width:19.85px;height:17.37px;line-height:17.37px">5</b>
<b class="c" style="left:329.80px;top:77.91px;width:19.10px;height:17.37px;line-height:17.37px;color:#9060cc">大</b>
<b style="left:349.90px;top:77.91px;width:21.00px;height:17.37px;line-height:17.37px">8</b>
<b class="c" style="left:371.90px;top:77.91px;width:20.35px;height:17.37px;line-height:17.37px;color:#9060cc">奇</b>
<b style="left:393.25px;top:77.91px;width:19.65px;height:17.37px;line-height:17.37px">1</b>
<b class="c" style="left:413.90px;top:77.91px;width:20.05px;height:17.37px;line-height:17.37px;color:#9060cc">质</b>
<b style="left:434.95px;top:77.91px;width:19.85px;height:17.37px;line-height:17.37px">1</b>
<b style="left:455.80px;top:77.91px;width:19.90px;height:17.37px;line-height:17.37px">1</b>
<b class="c" style="left:476.70px;top:77.91px;width:20.20px;height:17.37px;line-height:17.37px;color:#9060cc">1路</b>
<b style="left:497.90px;top:77.91px;width:20.05px;height:17.37px;line-height:17.37px">3</b>
<b style="left:519.05px;top:77.91px;width:19.65px;height:17.37px;line-height:17.37px">1</b>
<b style="left:540.20px;top:77.91px;width:14.70px;height:17.37px;line-height:17.37px">39</b>
<b style="left:571.90px;top:77.91px;width:15.40px;height:17.37px;line-height:17.37px">8</b>
<b style="left:588.30px;top:77.91px;width:15.40px;height:17.37px;line-height:17.37px">1</b>
<b style="left:604.70px;top:77.91px;width:15.20px;height:17.37px;line-height:17.37px">12</b>
<b style="left:620.90px;top:77.91px;width:15.00px;height:17.37px;line-height:17.37px">7</b>
<b style="left:636.90px;top:77.91px;width:15.10px;height:17.37px;line-height:17.37px">41</b>
<b style="left:653.00px;top:77.91px;width:15.20px;height:17.37px;line-height:17.37px">30</b>
<b style="left:669.20px;top:77.91px;width:15.10px;height:17.37px;line-height:17.37px">14</b>
<b style="left:685.30px;top:77.91px;width:14.65px;height:17.37px;line-height:17.37px">16</b>
<b style="left:701.55px;top:77.91px;width:30.15px;height:17.37px;line-height:17.37px">31</b>
<b style="left:732.70px;top:77.91px;width:31.20px;height:17.37px;line-height:17.37px">1</b>
<b style="left:764.90px;top:77.91px;width:31.10px;height:17.37px;line-height:17.37px">4</b>
<b style="left:0.00px;top:95.28px;width:40.00px;height:17.37px;line-height:17.37px">23054</b>
<b style="left:42.00px;top:95.28px;width:19.00px;height:17.37px;line-height:17.37px">9</b>
<b style="left:63.00px;top:95.28px;width:14.80px;height:17.37px;line-height:17.37px">13</b>
<b style="left:78.80px;top:95.28px;width:15.20px;height:17.37px;line-height:17.37px">19</b>
<b style="left:95.00px;top:95.28px;width:15.20px;height:17.37px;line-height:17.37px">21</b>
<b style="left:111.20px;top:95.28px;width:14.90px;height:17.37px;line-height:17.37px">9</b>
<b style="left:127.10px;top:95.28px;width:14.90px;height:17.37px;line-height:17.37px">14</b>
<b style="left:143.00px;top:95.28px;width:14.90px;height:17.37px;line-height:17.37px">5</b>
<b style="left:158.90px;top:95.28px;width:15.90px;height:17.37px;line-height:17.37px">2</b>
<b style="left:175.80px;top:95.28px;width:15.20px;height:17.37px;line-height:17.37px">1</b>
<b style="left:192.00px;top:95.28px;width:14.80px;height:17.37px;line-height:17.37px">4</b>
<b style="left:224.15px;top:95.28px;width:19.85px;height:17.37px;line-height:17.37px">40</b>
<b style="left:265.95px;top:95.28px;width:20.05px;height:17.37px;line-height:17.37px">1</b>
<b class="c" style="left:245.00px;top:95.28px;width:19.95px;height:17.37px;line-height:17.37px;color:#f7731c">否</b>
<b class="c" style="left:287.00px;top:95.28px;width:19.95px;height:17.37px;line-height:17.37px;color:#f7731c">热</b>
<b style="left:308.25px;top:95.28px;width:19.85px;height:17.37px;line-height:17.37px">8</b>
<b class="c" style="left:329.80px;top:95.28px;width:19.10px;height:17.37px;line-height:17.37px;color:#9060cc">大</b>
<b style="left:349.90px;top:95.28px;width:21.00px;height:17.37px;line-height:17.37px">9</b>
<b class="c" style="left:371.90px;top:95.28px;width:20.35px;height:17.37px;line-height:17.37px;color:#9060cc">奇</b>
<b style="left:393.25px;top:95.28px;width:19.65px;height:17.37px;line-height:17.37px">2</b>
<b style="left:413.90px;top:95.28px;width:20.05px;height:17.37px;line-height:17.37px">1</b>
<b class="c" style="left:434.95px;top:95.28px;width:19.85px;height:17.37px;line-height:17.37px;color:#9060cc">合</b>
<b class="c" style="left:455.80px;top:95.28px;width:19.90px;height:17.37px;line-height:17.37px;color:#9060cc">0路</b>
<b style="left:476.70px;top:95.28px;width:20.20px;height:17.37px;line-height:17.37px">1</b>
<b style="left:497.90px;top:95.28px;width:20.05px;height:17.37px;line-height:17.37px">4</b>
<b style="left:519.05px;top:95.28px;width:19.65px;height:17.37px;line-height:17.37px">2</b>
<b style="left:540.20px;top:95.28px;width:14.70px;height:17.37px;line-height:17.37px">40</b>
<b style="left:555.90px;top:95.28px;width:15.00px;height:17.37px;line-height:17.37px">1</b>
<b style="left:588.30px;top:95.28px;width:15.40px;height:17.37px;line-height:17.37px">2</b>
<b style="left:604.70px;top:95.28px;width:15.20px;height:17.37px;line-height:17.37px">13</b>
<b style="left:620.90px;top:95.28px;width:15.00px;height:17.37px;line-height:17.37px">8</b>
<b style="left:636.90px;top:95.28px;width:15.10px;height:17.37px;line-height:17.37px">42</b>
<b style="left:653.00px;top:95.28px;width:15.20px;height:17.37px;line-height:17.37px">31</b>
<b style="left:669.20px;top:95.28px;width:15.10px;height:17.37px;line-height:17.37px">15</b>
<b style="left:685.30px;top:95.28px;width:14.65px;height:17.37px;line-height:17.37px">17</b>
<b style="left:701.55px;top:95.28px;width:30.15px;height:17.37px;line-height:17.37px">45</b>
<b style="left:732.70px;top:95.28px;width:31.20px;height:17.37px;line-height:17.37px">5</b>
<b style="left:764.90px;top:95.28px;width:31.10px;height:17.37px;line-height:17.37px">7</b>
<b style="left:0.00px;top:113.95px;width:40.00px;height:17.15px;line-height:17.15px">23055</b>
<b style="left:42.00px;top:113.95px;width:19.00px;height:17.15px;line-height:17.15px">5</b>
<b style="left:63.00px;top:113.95px;width:14.80px;height:17.15px;line-height:17.15px">14</b>
<b style="left:78.80px;top:113.95px;width:15.20px;height:17.15px;line-height:17.15px">20</b>
<b style="left:95.00px;top:113.95px;width:15.20px;height:17.15px;line-height:17.15px">22</b>
<b style="left:111.20px;top:113.95px;width:14.90px;height:17.15px;line-height:17.15px">10</b>
<b style="left:127.10px;top:113.95px;width:14.90px;height:17.15px;line-height:17.15px">15</b>
<b style="left:158.90px;top:113.95px;width:15.90px;height:17.15px;line-height:17.15px">3</b>
<b style="left:175.80px;top:113.95px;width:15.20px;height:17.15px;line-height:17.15px">2</b>
<b style="left:192.00px;top:113.95px;width:14.80px;height:17.15px;line-height:17.15px">5</b>
<b style="left:207.80px;top:113.95px;width:15.25px;height:17.15px;line-height:17.15px">1</b>
<b style="left:224.15px;top:113.95px;width:19.85px;height:17.15px;line-height:17.15px">41</b>
<b class="c" style="left:265.95px;top:113.95px;width:20.05px;height:17.15px;line-height:17.15px;color:#f7731c">冷</b>
<b class="c" style="left:245.00px;top:113.95px;width:19.95px;height:17.15px;line-height:17.15px;color:#f7731c">否</b>
<b style="left:287.00px;top:113.95px;width:19.95px;height:17.15px;line-height:17.15px">1</b>
<b style="left:308.25px;top:113.95px;width:19.85px;height:17.15px;line-height:17.15px">5</b>
<b class="c" style="left:329.80px;top:113.95px;width:19.10px;height:17.15px;line-height:17.15px;color:#9060cc">大</b>
<b style="left:349.90px;top:113.95px;width:21.00px;height:17.15px;line-height:17.15px">10</b>
<b class="c" style="left:371.90px;top:113.95px;width:20.35px;height:17.15px;line-height:17.15px;color:#9060cc">奇</b>
<b style="left:393.25px;top:113.95px;width:19.65px;height:17.15px;line-height:17.15px">3</b>
<b class="c" style="left:413.90px;top:113.95px;width:20.05px;height:17.15px;line-height:17.15px;color:#9060cc">质</b>
<b style="left:434.95px;top:113.95px;width:19.85px;height:17.15px;line-height:17.15px">1</b>
<b style="left:455.80px;top:113.95px;width:19.90px;height:17.15px;line-height:17.15px">1</b>
<b style="left:476.70px;top:113.95px;width:20.20px;height:17.15px;line-height:17.15px">2</b>
<b class="c" style="left:497.90px;top:113.95px;width:20.05px;height:17.15px;line-height:17.15px;color:#9060cc">2路</b>
<b style="left:519.05px;top:113.95px;width:19.65px;height:17.15px;line-height:17.15px">4</b>
<b style="left:540.20px;top:113.95px;width:14.70px;height:17.15px;line-height:17.15px">41</b>
<b style="left:555.90px;top:113.95px;width:15.00px;height:17.15px;line-height:17.15px">2</b>
<b style="left:571.90px;top:113.95px;width:15.40px;height:17.15px;line-height:17.15px">1</b>
<b style="left:588.30px;top:113.95px;width:15.40px;height:17.15px;line-height:17.15px">3</b>
<b style="left:620.90px;top:113.95px;width:15.00px;height:17.15px;line-height:17.15px">9</b>
<b style="left:636.90px;top:113.95px;width:15.10px;height:17.15px;line-height:17.15px">43</b>
<b style="left:653.00px;top:113.95px;width:15.20px;height:17.15px;line-height:17.15px">32</b>
<b style="left:669.20px;top:113.95px;width:15.10px;height:17.15px;line-height:17.15px">16</b>
<b style="left:685.30px;top:113.95px;width:14.65px;height:17.15px;line-height:17.15px">18</b>
<b style="left:701.55px;top:113.95px;width:30.15px;height:17.15px;line-height:17.15px">32</b>
<b style="left:732.70px;top:113.95px;width:31.20px;height:17.15px;line-height:17.15px">2</b>
<b style="left:764.90px;top:113.95px;width:31.10px;height:17.15px;line-height:17.15px">8</b>
<b style="left:0.00px;top:131.10px;width:40.00px;height:17.15px;line-height:17.15px">23056</b>
<b style="left:42.00px;top:131.10px;width:19.00px;height:17.15px;line-height:17.15px">8</b>
<b style="left:63.00px;top:131.10px;width:14.80px;height:17.15px;line-height:17.15px">15</b>
<b style="left:78.80px;top:131.10px;width:15.20px;height:17.15px;line-height:17.15px">21</b>
<b style="left:95.00px;top:131.10px;width:15.20px;height:17.15px;line-height:17.15px">23</b>
<b style="left:111.20px;top:131.10px;width:14.90px;height:17.15px;line-height:17.15px">11</b>
<b style="left:127.10px;top:131.10px;width:14.90px;height:17.15px;line-height:17.15px">16</b>
<b style="left:143.00px;top:131.10px;width:14.90px;height:17.15px;line-height:17.15px">1</b>
<b style="left:158.90px;top:131.10px;width:15.90px;height:17.15px;line-height:17.15px">4</b>
<b style="left:175.80px;top:131.10px;width:15.20px;height:17.15px;line-height:17.15px">3</b>
<b style="left:207.80px;top:131.10px;width:15.25px;height:17.15px;line-height:17.15px">2</b>
<b style="left:224.15px;top:131.10px;width:19.85px;height:17.15px;line-height:17.15px">42</b>
<b class="c" style="left:265.95px;top:131.10px;width:20.05px;height:17.15px;line-height:17.15px;color:#f7731c">冷</b>
<b class="c" style="left:245.00px;top:131.10px;width:19.95px;height:17.15px;line-height:17.15px;color:#f7731c">否</b>
<b style="left:287.00px;top:131.10px;width:19.95px;height:17.15px;line-height:17.15px">2</b>
<b style="left:308.25px;top:131.10px;width:19.85px;height:17.15px;line-height:17.15px">7</b>
<b class="c" style="left:329.80px;top:131.10px;width:19.10px;height:17.15px;line-height:17.15px;color:#9060cc">大</b>
<b style="left:349.90px;top:131.10px;width:21.00px;height:17.15px;line-height:17.15px">11</b>
<b style="left:371.90px;top:131.10px;width:20.35px;height:17.15px;line-height:17.15px">1</b>
<b class="c" style="left:393.25px;top:131.10px;width:19.65px;height:17.15px;line-height:17.15px;color:#9060cc">偶</b>
<b style="left:413.90px;top:131.10px;width:20.05px;height:17.15px;line-height:17.15px">1</b>
<b class="c" style="left:434.95px;top:131.10px;width:19.85px;height:17.15px;line-height:17.15px;color:#9060cc">合</b>
<b style="left:455.80px;top:131.10px;width:19.90px;height:17.15px;line-height:17.15px">2</b>
<b style="left:476.70px;top:131.10px;width:20.20px;height:17.15px;line-height:17.15px">3</b>
<b class="c" style="left:497.90px;top:131.10px;width:20.05px;height:17.15px;line-height:17.15px;color:#9060cc">2路</b>
<b style="left:519.05px;top:131.10px;width:19.65px;height:17.15px;line-height:17.15px">3</b>
<b style="left:540.20px;top:131.10px;width:14.70px;height:17.15px;line-height:17.15px">42</b>
<b style="left:555.90px;top:131.10px;width:15.00px;height:17.15px;line-height:17.15px">3</b>
<b style="left:571.90px;top:131.10px;width:15.40px;height:17.15px;line-height:17.15px">2</b>
<b style="left:604.70px;top:131.10px;width:15.20px;height:17.15px;line-height:17.15px">1</b>
<b style="left:620.90px;top:131.10px;width:15.00px;height:17.15px;line-height:17.15px">10</b>
<b style="left:636.90px;top:131.10px;width:15.10px;height:17.15px;line-height:17.15px">44</b>
<b style="left:653.00px;top:131.10px;width:15.20px;height:17.15px;line-height:17.15px">33</b>
<b style="left:669.20px;top:131.10px;width:15.10px;height:17.15px;line-height:17.15px">17</b>
<b style="left:685.30px;top:131.10px;width:14.65px;height:17.15px;line-height:17.15px">19</b>
<b style="left:701.55px;top:131.10px;width:30.15px;height:17.15px;line-height:17.15px">41</b>
<b style="left:732.70px;top:131.10px;width:31.20px;height:17.15px;line-height:17.15px">1</b>
<b style="left:764.90px;top:131.10px;width:31.10px;height:17.15px;line-height:17.15px">4</b>
<b style="left:0.00px;top:148.25px;width:40.00px;height:17.15px;line-height:17.15px">23057</b>
<b style="left:42.00px;top:148.25px;width:19.00px;height:17.15px;line-height:17.15px">1</b>
<b style="left:63.00px;top:148.25px;width:14.80px;height:17.15px;line-height:17.15px">16</b>
<b style="left:95.00px;top:148.25px;width:15.20px;height:17.15px;line-height:17.15px">24</b>
<b style="left:111.20px;top:148.25px;width:14.90px;height:17.15px;line-height:17.15px">12</b>
<b style="left:127.10px;top:148.25px;width:14.90px;height:17.15px;line-height:17.15px">17</b>
<b style="left:143.00px;top:148.25px;width:14.90px;height:17.15px;line-height:17.15px">2</b>
<b style="left:158.90px;top:148.25px;width:15.90px;height:17.15px;line-height:17.15px">5</b>
<b style="left:175.80px;top:148.25px;width:15.20px;height:17.15px;line-height:17.15px">4</b>
<b style="left:192.00px;top:148.25px;width:14.80px;height:17.15px;line-height:17.15px">1</b>
<b style="left:207.80px;top:148.25px;width:15.25px;height:17.15px;line-height:17.15px">3</b>
<b style="left:224.15px;top:148.25px;width:19.85px;height:17.15px;line-height:17.15px">43</b>
<b class="c" style="left:265.95px;top:148.25px;width:20.05px;height:17.15px;line-height:17.15px;color:#f7731c">冷</b>
<b class="c" style="left:245.00px;top:148.25px;width:19.95px;height:17.15px;line-height:17.15px;color:#f7731c">否</b>
<b style="left:287.00px;top:148.25px;width:19.95px;height:17.15px;line-height:17.15px">3</b>
<b style="left:308.25px;top:148.25px;width:19.85px;height:17.15px;line-height:17.15px">3</b>
<b style="left:329.80px;top:148.25px;width:19.10px;height:17.15px;line-height:17.15px">1</b>
<b class="c" style="left:349.90px;top:148.25px;width:21.00px;height:17.15px;line-height:17.15px;color:#9060cc">小</b>
<b class="c" style="left:371.90px;top:148.25px;width:20.35px;height:17.15px;line-height:17.15px;color:#9060cc">奇</b>
<b style="left:393.25px;top:148.25px;width:19.65px;height:17.15px;line-height:17.15px">1</b>
<b class="c" style="left:413.90px;top:148.25px;width:20.05px;height:17.15px;line-height:17.15px;color:#9060cc">质</b>
<b style="left:434.95px;top:148.25px;width:19.85px;height:17.15px;line-height:17.15px">1</b>
<b style="left:455.80px;top:148.25px;width:19.90px;height:17.15px;line-height:17.15px">3</b>
<b class="c" style="left:476.70px;top:148.25px;width:20.20px;height:17.15px;line-height:17.15px;color:#9060cc">1路</b>
<b style="left:497.90px;top:148.25px;width:20.05px;height:17.15px;line-height:17.15px">1</b>
<b style="left:519.05px;top:148.25px;width:19.65px;height:17.15px;line-height:17.15px">7</b>
<b style="left:540.20px;top:148.25px;width:14.70px;height:17.15px;line-height:17.15px">43</b>
<b style="left:555.90px;top:148.25px;width:15.00px;height:17.15px;line-height:17.15px">4</b>
<b style="left:571.90px;top:148.25px;width:15.40px;height:17.15px;line-height:17.15px">3</b>
<b style="left:588.30px;top:148.25px;width:15.40px;height:17.15px;line-height:17.15px">1</b>
<b style="left:604.70px;top:148.25px;width:15.20px;height:17.15px;line-height:17.15px">2</b>
<b style="left:620.90px;top:148.25px;width:15.00px;height:17.15px;line-height:17.15px">11</b>
<b style="left:636.90px;top:148.25px;width:15.10px;height:17.15px;line-height:17.15px">45</b>
<b style="left:669.20px;top:148.25px;width:15.10px;height:17.15px;line-height:17.15px">18</b>
<b style="left:685.30px;top:148.25px;width:14.65px;height:17.15px;line-height:17.15px">20</b>
<b style="left:701.55px;top:148.25px;width:30.15px;height:17.15px;line-height:17.15px">19</b>
<b style="left:732.70px;top:148.25px;width:31.20px;height:17.15px;line-height:17.15px">9</b>
<b style="left:764.90px;top:148.25px;width:31.10px;height:17.15px;line-height:17.15px">8</b>
<b style="left:0.00px;top:165.40px;width:40.00px;height:17.15px;line-height:17.15px">23058</b>
<b style="left:42.00px;top:165.40px;width:19.00px;height:17.15px;line-height:17.15px">8</b>
<b style="left:63.00px;top:165.40px;width:14.80px;height:17.15px;line-height:17.15px">17</b>
<b style="left:78.80px;top:165.40px;width:15.20px;height:17.15px;line-height:17.15px">1</b>
<b style="left:95.00px;top:165.40px;width:15.20px;height:17.15px;line-height:17.15px">25</b>
<b style="left:111.20px;top:165.40px;width:14.90px;height:17.15px;line-height:17.15px">13</b>
<b style="left:127.10px;top:165.40px;width:14.90px;height:17.15px;line-height:17.15px">18</b>
<b style="left:143.00px;top:165.40px;width:14.90px;height:17.15px;line-height:17.15px">3</b>
<b style="left:158.90px;top:165.40px;width:15.90px;height:17.15px;line-height:17.15px">6</b>
<b style="left:175.80px;top:165.40px;width:15.20px;height:17.15px;line-height:17.15px">5</b>
<b style="left:207.80px;top:165.40px;width:15.25px;height:17.15px;line-height:17.15px">4</b>
<b style="left:224.15px;top:165.40px;width:19.85px;height:17.15px;line-height:17.15px">44</b>
<b style="left:265.95px;top:165.40px;width:20.05px;height:17.15px;line-height:17.15px">1</b>
<b class="c" style="left:245.00px;top:165.40px;width:19.95px;height:17.15px;line-height:17.15px;color:#f7731c">否</b>
<b class="c" style="left:287.00px;top:165.40px;width:19.95px;height:17.15px;line-height:17.15px;color:#f7731c">热</b>
<b style="left:308.25px;top:165.40px;width:19.85px;height:17.15px;line-height:17.15px">5</b>
<b class="c" style="left:329.80px;top:165.40px;width:19.10px;height:17.15px;line-height:17.15px;color:#9060cc">大</b>
<b style="left:349.90px;top:165.40px;width:21.00px;height:17.15px;line-height:17.15px">1</b>
<b style="left:371.90px;top:165.40px;width:20.35px;height:17.15px;line-height:17.15px">1</b>
<b class="c" style="left:393.25px;top:165.40px;width:19.65px;height:17.15px;line-height:17.15px;color:#9060cc">偶</b>
<b style="left:413.90px;top:165.40px;width:20.05px;height:17.15px;line-height:17.15px">1</b>
<b class="c" style="left:434.95px;top:165.40px;width:19.85px;height:17.15px;line-height:17.15px;color:#9060cc">合</b>
<b style="left:455.80px;top:165.40px;width:19.90px;height:17.15px;line-height:17.15px">4</b>
<b style="left:476.70px;top:165.40px;width:20.20px;height:17.15px;line-height:17.15px">1</b>
<b class="c" style="left:497.90px;top:165.40px;width:20.05px;height:17.15px;line-height:17.15px;color:#9060cc">2路</b>
<b style="left:519.05px;top:165.40px;width:19.65px;height:17.15px;line-height:17.15px">7</b>
<b style="left:540.20px;top:165.40px;width:14.70px;height:17.15px;line-height:17.15px">44</b>
<b style="left:555.90px;top:165.40px;width:15.00px;height:17.15px;line-height:17.15px">5</b>
<b style="left:571.90px;top:165.40px;width:15.40px;height:17.15px;line-height:17.15px">4</b>
<b style="left:588.30px;top:165.40px;width:15.40px;height:17.15px;line-height:17.15px">2</b>
<b style="left:604.70px;top:165.40px;width:15.20px;height:17.15px;line-height:17.15px">3</b>
<b style="left:620.90px;top:165.40px;width:15.00px;height:17.15px;line-height:17.15px">12</b>
<b style="left:636.90px;top:165.40px;width:15.10px;height:17.15px;line-height:17.15px">46</b>
<b style="left:669.20px;top:165.40px;width:15.10px;height:17.15px;line-height:17.15px">19</b>
<b style="left:685.30px;top:165.40px;width:14.65px;height:17.15px;line-height:17.15px">21</b>
<b style="left:701.55px;top:165.40px;width:30.15px;height:17.15px;line-height:17.15px">32</b>
<b style="left:732.70px;top:165.40px;width:31.20px;height:17.15px;line-height:17.15px">2</b>
<b style="left:764.90px;top:165.40px;width:31.10px;height:17.15px;line-height:17.15px">8</b>
<b style="left:0.00px;top:182.55px;width:40.00px;height:17.15px;line-height:17.15px">23059</b>
<b style="left:42.00px;top:182.55px;width:19.00px;height:17.15px;line-height:17.15px">0</b>
<b style="left:78.80px;top:182.55px;width:15.20px;height:17.15px;line-height:17.15px">2</b>
<b style="left:95.00px;top:182.55px;width:15.20px;height:17.15px;line-height:17.15px">26</b>
<b style="left:111.20px;top:182.55px;width:14.90px;height:17.15px;line-height:17.15px">14</b>
<b style="left:127.10px;top:182.55px;width:14.90px;height:17.15px;line-height:17.15px">19</b>
<b style="left:143.00px;top:182.55px;width:14.90px;height:17.15px;line-height:17.15px">4</b>
<b style="left:158.90px;top:182.55px;width:15.90px;height:17.15px;line-height:17.15px">7</b>
<b style="left:175.80px;top:182.55px;width:15.20px;height:17.15px;line-height:17.15px">6</b>
<b style="left:192.00px;top:182.55px;width:14.80px;height:17.15px;line-height:17.15px">1</b>
<b style="left:207.80px;top:182.55px;width:15.25px;height:17.15px;line-height:17.15px">5</b>
<b style="left:224.15px;top:182.55px;width:19.85px;height:17.15px;line-height:17.15px">45</b>
<b class="c" style="left:265.95px;top:182.55px;width:20.05px;height:17.15px;line-height:17.15px;color:#f7731c">冷</b>
<b class="c" style="left:245.00px;top:182.55px;width:19.95px;height:17.15px;line-height:17.15px;color:#f7731c">否</b>
<b style="left:287.00px;top:182.55px;width:19.95px;height:17.15px;line-height:17.15px">1</b>
<b style="left:308.25px;top:182.55px;width:19.85px;height:17.15px;line-height:17.15px">4</b>
<b style="left:329.80px;top:182.55px;width:19.10px;height:17.15px;line-height:17.15px">1</b>
<b class="c" style="left:349.90px;top:182.55px;width:21.00px;height:17.15px;line-height:17.15px;color:#9060cc">小</b>
<b style="left:371.90px;top:182.55px;width:20.35px;height:17.15px;line-height:17.15px">2</b>
<b class="c" style="left:393.25px;top:182.55px;width:19.65px;height:17.15px;line-height:17.15px;color:#9060cc">偶</b>
<b style="left:413.90px;top:182.55px;width:20.05px;height:17.15px;line-height:17.15px">2</b>
<b class="c" style="left:434.95px;top:182.55px;width:19.85px;height:17.15px;line-height:17.15px;color:#9060cc">合</b>
<b class="c" style="left:455.80px;top:182.55px;width:19.90px;height:17.15px;line-height:17.15px;color:#9060cc">0路</b>
<b style="left:476.70px;top:182.55px;width:20.20px;height:17.15px;line-height:17.15px">2</b>
<b style="left:497.90px;top:182.55px;width:20.05px;height:17.15px;line-height:17.15px">1</b>
<b style="left:519.05px;top:182.55px;width:19.65px;height:17.15px;line-height:17.15px">8</b>
<b style="left:540.20px;top:182.55px;width:14.70px;height:17.15px;line-height:17.15px">45</b>
<b style="left:555.90px;top:182.55px;width:15.00px;height:17.15px;line-height:17.15px">6</b>
<b style="left:571.90px;top:182.55px;width:15.40px;height:17.15px;line-height:17.15px">5</b>
<b style="left:588.30px;top:182.55px;width:15.40px;height:17.15px;line-height:17.15px">3</b>
<b style="left:604.70px;top:182.55px;width:15.20px;height:17.15px;line-height:17.15px">4</b>
<b style="left:620.90px;top:182.55px;width:15.00px;height:17.15px;line-height:17.15px">13</b>
<b style="left:636.90px;top:182.55px;width:15.10px;height:17.15px;line-height:17.15px">47</b>
<b style="left:653.00px;top:182.55px;width:15.20px;height:17.15px;line-height:17.15px">1</b>
<b style="left:685.30px;top:182.55px;width:14.65px;height:17.15px;line-height:17.15px">22</b>
<b style="left:701.55px;top:182.55px;width:30.15px;height:17.15px;line-height:17.15px">25</b>
<b style="left:732.70px;top:182.55px;width:31.20px;height:17.15px;line-height:17.15px">5</b>
<b style="left:764.90px;top:182.55px;width:31.10px;height:17.15px;line-height:17.15px">7</b>
<b style="left:0.00px;top:201.00px;width:40.00px;height:17.34px;line-height:17.34px">23060</b>
<b style="left:42.00px;top:201.00px;width:19.00px;height:17.34px;line-height:17.34px">4</b>
<b style="left:63.00px;top:201.00px;width:14.80px;height:17.34px;line-height:17.34px">1</b>
<b style="left:78.80px;top:201.00px;width:15.20px;height:17.34px;line-height:17.34px">3</b>
<b style="left:95.00px;top:201.00px;width:15.20px;height:17.34px;line-height:17.34px">27</b>
<b style="left:111.20px;top:201.00px;width:14.90px;height:17.34px;line-height:17.34px">15</b>
<b style="left:143.00px;top:201.00px;width:14.90px;height:17.34px;line-height:17.34px">5</b>
<b style="left:158.90px;top:201.00px;width:15.90px;height:17.34px;line-height:17.34px">8</b>
<b style="left:175.80px;top:201.00px;width:15.20px;height:17.34px;line-height:17.34px">7</b>
<b style="left:192.00px;top:201.00px;width:14.80px;height:17.34px;line-height:17.34px">2</b>
<b style="left:207.80px;top:201.00px;width:15.25px;height:17.34px;line-height:17.34px">6</b>
<b style="left:224.15px;top:201.00px;width:19.85px;height:17.34px;line-height:17.34px">46</b>
<b class="c" style="left:265.95px;top:201.00px;width:20.05px;height:17.34px;line-height:17.34px;color:#f7731c">冷</b>
<b class="c" style="left:245.00px;top:201.00px;width:19.95px;height:17.34px;line-height:17.34px;color:#f7731c">否</b>
<b style="left:287.00px;top:201.00px;width:19.95px;height:17.34px;line-height:17.34px">2</b>
<b style="left:308.25px;top:201.00px;width:19.85px;height:17.34px;line-height:17.34px">5</b>
<b style="left:329.80px;top:201.00px;width:19.10px;height:17.34px;line-height:17.34px">2</b>
<b class="c" style="left:349.90px;top:201.00px;width:21.00px;height:17.34px;line-height:17.34px;color:#9060cc">小</b>
<b style="left:371.90px;top:201.00px;width:20.35px;height:17.34px;line-height:17.34px">3</b>
<b class="c" style="left:393.25px;top:201.00px;width:19.65px;height:17.34px;line-height:17.34px;color:#9060cc">偶</b>
<b style="left:413.90px;top:201.00px;width:20.05px;height:17.34px;line-height:17.34px">3</b>
<b class="c" style="left:434.95px;top:201.00px;width:19.85px;height:17.34px;line-height:17.34px;color:#9060cc">合</b>
<b style="left:455.80px;top:201.00px;width:19.90px;height:17.34px;line-height:17.34px">1</b>
<b class="c" style="left:476.70px;top:201.00px;width:20.20px;height:17.34px;line-height:17.34px;color:#9060cc">1路</b>
<b style="left:497.90px;top:201.00px;width:20.05px;height:17.34px;line-height:17.34px">2</b>
<b style="left:519.05px;top:201.00px;width:19.65px;height:17.34px;line-height:17.34px">4</b>
<b style="left:540.20px;top:201.00px;width:14.70px;height:17.34px;line-height:17.34px">46</b>
<b style="left:555.90px;top:201.00px;width:15.00px;height:17.34px;line-height:17.34px">7</b>
<b style="left:571.90px;top:201.00px;width:15.40px;height:17.34px;line-height:17.34px">6</b>
<b style="left:588.30px;top:201.00px;width:15.40px;height:17.34px;line-height:17.34px">4</b>
<b style="left:620.90px;top:201.00px;width:15.00px;height:17.34px;line-height:17.34px">14</b>
<b style="left:636.90px;top:201.00px;width:15.10px;height:17.34px;line-height:17.34px">48</b>
<b style="left:653.00px;top:201.00px;width:15.20px;height:17.34px;line-height:17.34px">2</b>
<b style="left:669.20px;top:201.00px;width:15.10px;height:17.34px;line-height:17.34px">1</b>
<b style="left:685.30px;top:201.00px;width:14.65px;height:17.34px;line-height:17.34px">23</b>
<b style="left:701.55px;top:201.00px;width:30.15px;height:17.34px;line-height:17.34px">31</b>
<b style="left:732.70px;top:201.00px;width:31.20px;height:17.34px;line-height:17.34px">1</b>
<b style="left:764.90px;top:201.00px;width:31.10px;height:17.34px;line-height:17.34px">8</b>
<b style="left:0.00px;top:218.34px;width:40.00px;height:17.34px;line-height:17.34px">23061</b>
<b style="left:42.00px;top:218.34px;width:19.00px;height:17.34px;line-height:17.34px">1</b>
<b style="left:63.00px;top:218.34px;width:14.80px;height:17.34px;line-height:17.34px">2</b>
<b style="left:95.00px;top:218.34px;width:15.20px;height:17.34px;line-height:17.34px">28</b>
<b style="left:111.20px;top:218.34px;width:14.90px;height:17.34px;line-height:17.34px">16</b>
<b style="left:127.10px;top:218.34px;width:14.90px;height:17.34px;line-height:17.34px">1</b>
<b style="left:143.00px;top:218.34px;width:14.90px;height:17.34px;line-height:17.34px">6</b>
<b style="left:158.90px;top:218.34px;width:15.90px;height:17.34px;line-height:17.34px">9</b>
<b style="left:175.80px;top:218.34px;width:15.20px;height:17.34px;line-height:17.34px">8</b>
<b style="left:192.00px;top:218.34px;width:14.80px;height:17.34px;line-height:17.34px">3</b>
<b style="left:207.80px;top:218.34px;width:15.25px;height:17.34px;line-height:17.34px">7</b>
<b style="left:224.15px;top:218.34px;width:19.85px;height:17.34px;line-height:17.34px">47</b>
<b style="left:265.95px;top:218.34px;width:20.05px;height:17.34px;line-height:17.34px">1</b>
<b class="c" style="left:245.00px;top:218.34px;width:19.95px;height:17.34px;line-height:17.34px;color:#f7731c">否</b>
<b class="c" style="left:287.00px;top:218.34px;width:19.95px;height:17.34px;line-height:17.34px;color:#f7731c">热</b>
<b style="left:308.25px;top:218.34px;width:19.85px;height:17.34px;line-height:17.34px">3</b>
<b style="left:329.80px;top:218.34px;width:19.10px;height:17.34px;line-height:17.34px">3</b>
<b class="c" style="left:349.90px;top:218.34px;width:21.00px;height:17.34px;line-height:17.34px;color:#9060cc">小</b>
<b class="c" style="left:371.90px;top:218.34px;width:20.35px;height:17.34px;line-height:17.34px;color:#9060cc">奇</b>
<b style="left:393.25px;top:218.34px;width:19.65px;height:17.34px;line-height:17.34px">1</b>
<b class="c" style="left:413.90px;top:218.34px;width:20.05px;height:17.34px;line-height:17.34px;color:#9060cc">质</b>
<b style="left:434.95px;top:218.34px;width:19.85px;height:17.34px;line-height:17.34px">1</b>
<b style="left:455.80px;top:218.34px;width:19.90px;height:17.34px;line-height:17.34px">2</b>
<b class="c" style="left:476.70px;top:218.34px;width:20.20px;height:17.34px;line-height:17.34px;color:#9060cc">1路</b>
<b style="left:497.90px;top:218.34px;width:20.05px;height:17.34px;line-height:17.34px">3</b>
<b style="left:519.05px;top:218.34px;width:19.65px;height:17.34px;line-height:17.34px">3</b>
<b style="left:540.20px;top:218.34px;width:14.70px;height:17.34px;line-height:17.34px">47</b>
<b style="left:555.90px;top:218.34px;width:15.00px;height:17.34px;line-height:17.34px">8</b>
<b style="left:571.90px;top:218.34px;width:15.40px;height:17.34px;line-height:17.34px">7</b>
<b style="left:604.70px;top:218.34px;width:15.20px;height:17.34px;line-height:17.34px">1</b>
<b style="left:620.90px;top:218.34px;width:15.00px;height:17.34px;line-height:17.34px">15</b>
<b style="left:636.90px;top:218.34px;width:15.10px;height:17.34px;line-height:17.34px">49</b>
<b style="left:653.00px;top:218.34px;width:15.20px;height:17.34px;line-height:17.34px">3</b>
<b style="left:669.20px;top:218.34px;width:15.10px;height:17.34px;line-height:17.34px">2</b>
<b style="left:685.30px;top:218.34px;width:14.65px;height:17.34px;line-height:17.34px">24</b>
<b style="left:701.55px;top:218.34px;width:30.15px;height:17.34px;line-height:17.34px">19</b>
<b style="left:732.70px;top:218.34px;width:31.20px;height:17.34px;line-height:17.34px">9</b>
<b style="left:764.90px;top:218.34px;width:31.10px;height:17.34px;line-height:17.34px">6</b>
<b style="left:0.00px;top:235.68px;width:40.00px;height:17.34px;line-height:17.34px">23062</b>
<b style="left:42.00px;top:235.68px;width:19.00px;height:17.34px;line-height:17.34px">9</b>
<b style="left:63.00px;top:235.68px;width:14.80px;height:17.34px;line-height:17.34px">3</b>
<b style="left:78.80px;top:235.68px;width:15.20px;height:17.34px;line-height:17.34px">1</b>
<b style="left:95.00px;top:235.68px;width:15.20px;height:17.34px;line-height:17.34px">29</b>
<b style="left:111.20px;top:235.68px;width:14.90px;height:17.34px;line-height:17.34px">17</b>
<b style="left:127.10px;top:235.68px;width:14.90px;height:17.34px;line-height:17.34px">2</b>
<b style="left:143.00px;top:235.68px;width:14.90px;height:17.34px;line-height:17.34px">7</b>
<b style="left:158.90px;top:235.68px;width:15.90px;height:17.34px;line-height:17.34px">10</b>
<b style="left:175.80px;top:235.68px;width:15.20px;height:17.34px;line-height:17.34px">9</b>
<b style="left:192.00px;top:235.68px;width:14.80px;height:17.34px;line-height:17.34px">4</b>
<b style="left:224.15px;top:235.68px;width:19.85px;height:17.34px;line-height:17.34px">48</b>
<b class="c" style="left:265.95px;top:235.68px;width:20.05px;height:17.34px;line-height:17.34px;color:#f7731c">冷</b>
<b class="c" style="left:245.00px;top:235.68px;width:19.95px;height:17.34px;line-height:17.34px;color:#f7731c">否</b>
<b style="left:287.00px;top:235.68px;width:19.95px;height:17.34px;line-height:17.34px">1</b>
<b style="left:308.25px;top:235.68px;width:19.85px;height:17.34px;line-height:17.34px">6</b>
<b class="c" style="left:329.80px;top:235.68px;width:19.10px;height:17.34px;line-height:17.34px;color:#9060cc">大</b>
<b style="left:349.90px;top:235.68px;width:21.00px;height:17.34px;line-height:17.34px">1</b>
<b class="c" style="left:371.90px;top:235.68px;width:20.35px;height:17.34px;line-height:17.34px;color:#9060cc">奇</b>
<b style="left:393.25px;top:235.68px;width:19.65px;height:17.34px;line-height:17.34px">2</b>
<b style="left:413.90px;top:235.68px;width:20.05px;height:17.34px;line-height:17.34px">1</b>
<b class="c" style="left:434.95px;top:235.68px;width:19.85px;height:17.34px;line-height:17.34px;color:#9060cc">合</b>
<b class="c" style="left:455.80px;top:235.68px;width:19.90px;height:17.34px;line-height:17.34px;color:#9060cc">0路</b>
<b style="left:476.70px;top:235.68px;width:20.20px;height:17.34px;line-height:17.34px">1</b>
<b style="left:497.90px;top:235.68px;width:20.05px;height:17.34px;line-height:17.34px">4</b>
<b style="left:519.05px;top:235.68px;width:19.65px;height:17.34px;line-height:17.34px">8</b>
<b style="left:540.20px;top:235.68px;width:14.70px;height:17.34px;line-height:17.34px">48</b>
<b style="left:555.90px;top:235.68px;width:15.00px;height:17.34px;line-height:17.34px">9</b>
<b style="left:571.90px;top:235.68px;width:15.40px;height:17.34px;line-height:17.34px">8</b>
<b style="left:588.30px;top:235.68px;width:15.40px;height:17.34px;line-height:17.34px">1</b>
<b style="left:604.70px;top:235.68px;width:15.20px;height:17.34px;line-height:17.34px">2</b>
<b style="left:620.90px;top:235.68px;width:15.00px;height:17.34px;line-height:17.34px">16</b>
<b style="left:636.90px;top:235.68px;width:15.10px;height:17.34px;line-height:17.34px">50</b>
<b style="left:653.00px;top:235.68px;width:15.20px;height:17.34px;line-height:17.34px">4</b>
<b style="left:685.30px;top:235.68px;width:14.65px;height:17.34px;line-height:17.34px">25</b>
<b style="left:701.55px;top:235.68px;width:30.15px;height:17.34px;line-height:17.34px">34</b>
<b style="left:732.70px;top:235.68px;width:31.20px;height:17.34px;line-height:17.34px">4</b>
<b style="left:764.90px;top:235.68px;width:31.10px;height:17.34px;line-height:17.34px">7</b>
<b style="left:0.00px;top:253.03px;width:40.00px;height:17.34px;line-height:17.34px">23063</b>
<b style="left:42.00px;top:253.03px;width:19.00px;height:17.34px;line-height:17.34px">9</b>
<b style="left:63.00px;top:253.03px;width:14.80px;height:17.34px;line-height:17.34px">4</b>
<b style="left:78.80px;top:253.03px;width:15.20px;height:17.34px;line-height:17.34px">2</b>
<b style="left:95.00px;top:253.03px;width:15.20px;height:17.34px;line-height:17.34px">30</b>
<b style="left:111.20px;top:253.03px;width:14.90px;height:17.34px;line-height:17.34px">18</b>
<b style="left:127.10px;top:253.03px;width:14.90px;height:17.34px;line-height:17.34px">3</b>
<b style="left:143.00px;top:253.03px;width:14.90px;height:17.34px;line-height:17.34px">8</b>
<b style="left:158.90px;top:253.03px;width:15.90px;height:17.34px;line-height:17.34px">11</b>
<b style="left:175.80px;top:253.03px;width:15.20px;height:17.34px;line-height:17.34px">10</b>
<b style="left:192.00px;top:253.03px;width:14.80px;height:17.34px;line-height:17.34px">5</b>
<b class="c" style="left:224.15px;top:253.03px;width:19.85px;height:17.34px;line-height:17.34px;color:#f7731c">是</b>
<b style="left:265.95px;top:253.03px;width:20.05px;height:17.34px;line-height:17.34px">1</b>
<b style="left:245.00px;top:253.03px;width:19.95px;height:17.34px;line-height:17.34px">1</b>
<b class="c" style="left:287.00px;top:253.03px;width:19.95px;height:17.34px;line-height:17.34px;color:#f7731c">热</b>
<b style="left:308.25px;top:253.03px;width:19.85px;height:17.34px;line-height:17.34px">4</b>
<b class="c" style="left:329.80px;top:253.03px;width:19.10px;height:17.34px;line-height:17.34px;color:#9060cc">大</b>
<b style="left:349.90px;top:253.03px;width:21.00px;height:17.34px;line-height:17.34px">2</b>
<b class="c" style="left:371.90px;top:253.03px;width:20.35px;height:17.34px;line-height:17.34px;color:#9060cc">奇</b>
<b style="left:393.25px;top:253.03px;width:19.65px;height:17.34px;line-height:17.34px">3</b>
<b style="left:413.90px;top:253.03px;width:20.05px;height:17.34px;line-height:17.34px">2</b>
<b class="c" style="left:434.95px;top:253.03px;width:19.85px;height:17.34px;line-height:17.34px;color:#9060cc">合</b>
<b class="c" style="left:455.80px;top:253.03px;width:19.90px;height:17.34px;line-height:17.34px;color:#9060cc">0路</b>
<b style="left:476.70px;top:253.03px;width:20.20px;height:17.34px;line-height:17.34px">2</b>
<b style="left:497.90px;top:253.03px;width:20.05px;height:17.34px;line-height:17.34px">5</b>
<b style="left:519.05px;top:253.03px;width:19.65px;height:17.34px;line-height:17.34px">0</b>
<b style="left:555.90px;top:253.03px;width:15.00px;height:17.34px;line-height:17.34px">10</b>
<b style="left:571.90px;top:253.03px;width:15.40px;height:17.34px;line-height:17.34px">9</b>
<b style="left:588.30px;top:253.03px;width:15.40px;height:17.34px;line-height:17.34px">2</b>
<b style="left:604.70px;top:253.03px;width:15.20px;height:17.34px;line-height:17.34px">3</b>
<b style="left:620.90px;top:253.03px;width:15.00px;height:17.34px;line-height:17.34px">17</b>
<b style="left:636.90px;top:253.03px;width:15.10px;height:17.34px;line-height:17.34px">51</b>
<b style="left:653.00px;top:253.03px;width:15.20px;height:17.34px;line-height:17.34px">5</b>
<b style="left:669.20px;top:253.03px;width:15.10px;height:17.34px;line-height:17.34px">1</b>
<b style="left:685.30px;top:253.03px;width:14.65px;height:17.34px;line-height:17.34px">26</b>
<b style="left:701.55px;top:253.03px;width:30.15px;height:17.34px;line-height:17.34px">23</b>
<b style="left:732.70px;top:253.03px;width:31.20px;height:17.34px;line-height:17.34px">3</b>
<b style="left:764.90px;top:253.03px;width:31.10px;height:17.34px;line-height:17.34px">8</b>
<b style="left:0.00px;top:270.37px;width:40.00px;height:17.34px;line-height:17.34px">23064</b>
<b style="left:42.00px;top:270.37px;width:19.00px;height:17.34px;line-height:17.34px">5</b>
<b style="left:63.00px;top:270.37px;width:14.80px;height:17.34px;line-height:17.34px">5</b>
<b style="left:78.80px;top:270.37px;width:15.20px;height:17.34px;line-height:17.34px">3</b>
<b style="left:95.00px;top:270.37px;width:15.20px;height:17.34px;line-height:17.34px">31</b>
<b style="left:111.20px;top:270.37px;width:14.90px;height:17.34px;line-height:17.34px">19</b>
<b style="left:127.10px;top:270.37px;width:14.90px;height:17.34px;line-height:17.34px">4</b>
<b style="left:158.90px;top:270.37px;width:15.90px;height:17.34px;line-height:17.34px">12</b>
<b style="left:175.80px;top:270.37px;width:15.20px;height:17.34px;line-height:17.34px">11</b>
<b style="left:192.00px;top:270.37px;width:14.80px;height:17.34px;line-height:17.34px">6</b>
<b style="left:207.80px;top:270.37px;width:15.25px;height:17.34px;line-height:17.34px">1</b>
<b style="left:224.15px;top:270.37px;width:19.85px;height:17.34px;line-height:17.34px">1</b>
<b class="c" style="left:265.95px;top:270.37px;width:20.05px;height:17.34px;line-height:17.34px;color:#f7731c">冷</b>
<b class="c" style="left:245.00px;top:270.37px;width:19.95px;height:17.34px;line-height:17.34px;color:#f7731c">否</b>
<b style="left:287.00px;top:270.37px;width:19.95px;height:17.34px;line-height:17.34px">1</b>
<b style="left:308.25px;top:270.37px;width:19.85px;height:17.34px;line-height:17.34px">5</b>
<b class="c" style="left:329.80px;top:270.37px;width:19.10px;height:17.34px;line-height:17.34px;color:#9060cc">大</b>
<b style="left:349.90px;top:270.37px;width:21.00px;height:17.34px;line-height:17.34px">3</b>
<b class="c" style="left:371.90px;top:270.37px;width:20.35px;height:17.34px;line-height:17.34px;color:#9060cc">奇</b>
<b style="left:393.25px;top:270.37px;width:19.65px;height:17.34px;line-height:17.34px">4</b>
<b class="c" style="left:413.90px;top:270.37px;width:20.05px;height:17.34px;line-height:17.34px;color:#9060cc">质</b>
<b style="left:434.95px;top:270.37px;width:19.85px;height:17.34px;line-height:17.34px">1</b>
<b style="left:455.80px;top:270.37px;width:19.90px;height:17.34px;line-height:17.34px">1</b>
<b style="left:476.70px;top:270.37px;width:20.20px;height:17.34px;line-height:17.34px">3</b>
<b class="c" style="left:497.90px;top:270.37px;width:20.05px;height:17.34px;line-height:17.34px;color:#9060cc">2路</b>
<b style="left:519.05px;top:270.37px;width:19.65px;height:17.34px;line-height:17.34px">4</b>
<b style="left:540.20px;top:270.37px;width:14.70px;height:17.34px;line-height:17.34px">1</b>
<b style="left:555.90px;top:270.37px;width:15.00px;height:17.34px;line-height:17.34px">11</b>
<b style="left:571.90px;top:270.37px;width:15.40px;height:17.34px;line-height:17.34px">10</b>
<b style="left:588.30px;top:270.37px;width:15.40px;height:17.34px;line-height:17.34px">3</b>
<b style="left:620.90px;top:270.37px;width:15.00px;height:17.34px;line-height:17.34px">18</b>
<b style="left:636.90px;top:270.37px;width:15.10px;height:17.34px;line-height:17.34px">52</b>
<b style="left:653.00px;top:270.37px;width:15.20px;height:17.34px;line-height:17.34px">6</b>
<b style="left:669.20px;top:270.37px;width:15.10px;height:17.34px;line-height:17.34px">2</b>
<b style="left:685.30px;top:270.37px;width:14.65px;height:17.34px;line-height:17.34px">27</b>
<b style="left:701.55px;top:270.37px;width:30.15px;height:17.34px;line-height:17.34px">28</b>
<b style="left:732.70px;top:270.37px;width:31.20px;height:17.34px;line-height:17.34px">8</b>
<b style="left:764.90px;top:270.37px;width:31.10px;height:17.34px;line-height:17.34px">6</b>
<b style="left:0.00px;top:289.01px;width:40.00px;height:17.14px;line-height:17.14px">23065</b>
<b style="left:42.00px;top:289.01px;width:19.00px;height:17.14px;line-height:17.14px">6</b>
<b style="left:63.00px;top:289.01px;width:14.80px;height:17.14px;line-height:17.14px">6</b>
<b style="left:78.80px;top:289.01px;width:15.20px;height:17.14px;line-height:17.14px">4</b>
<b style="left:95.00px;top:289.01px;width:15.20px;height:17.14px;line-height:17.14px">32</b>
<b style="left:111.20px;top:289.01px;width:14.90px;height:17.14px;line-height:17.14px">20</b>
<b style="left:127.10px;top:289.01px;width:14.90px;height:17.14px;line-height:17.14px">5</b>
<b style="left:143.00px;top:289.01px;width:14.90px;height:17.14px;line-height:17.14px">1</b>
<b style="left:175.80px;top:289.01px;width:15.20px;height:17.14px;line-height:17.14px">12</b>
<b style="left:192.00px;top:289.01px;width:14.80px;height:17.14px;line-height:17.14px">7</b>
<b style="left:207.80px;top:289.01px;width:15.25px;height:17.14px;line-height:17.14px">2</b>
<b style="left:224.15px;top:289.01px;width:19.85px;height:17.14px;line-height:17.14px">2</b>
<b class="c" style="left:265.95px;top:289.01px;width:20.05px;height:17.14px;line-height:17.14px;color:#f7731c">冷</b>
<b class="c" style="left:245.00px;top:289.01px;width:19.95px;height:17.14px;line-height:17.14px;color:#f7731c">否</b>
<b style="left:287.00px;top:289.01px;width:19.95px;height:17.14px;line-height:17.14px">2</b>
<b style="left:308.25px;top:289.01px;width:19.85px;height:17.14px;line-height:17.14px">5</b>
<b class="c" style="left:329.80px;top:289.01px;width:19.10px;height:17.14px;line-height:17.14px;color:#9060cc">大</b>
<b style="left:349.90px;top:289.01px;width:21.00px;height:17.14px;line-height:17.14px">4</b>
<b style="left:371.90px;top:289.01px;width:20.35px;height:17.14px;line-height:17.14px">1</b>
<b class="c" style="left:393.25px;top:289.01px;width:19.65px;height:17.14px;line-height:17.14px;color:#9060cc">偶</b>
<b style="left:413.90px;top:289.01px;width:20.05px;height:17.14px;line-height:17.14px">1</b>
<b class="c" style="left:434.95px;top:289.01px;width:19.85px;height:17.14px;line-height:17.14px;color:#9060cc">合</b>
<b class="c" style="left:455.80px;top:289.01px;width:19.90px;height:17.14px;line-height:17.14px;color:#9060cc">0路</b>
<b style="left:476.70px;top:289.01px;width:20.20px;height:17.14px;line-height:17.14px">4</b>
<b style="left:497.90px;top:289.01px;width:20.05px;height:17.14px;line-height:17.14px">1</b>
<b style="left:519.05px;top:289.01px;width:19.65px;height:17.14px;line-height:17.14px">1</b>
<b style="left:540.20px;top:289.01px;width:14.70px;height:17.14px;line-height:17.14px">2</b>
<b style="left:571.90px;top:289.01px;width:15.40px;height:17.14px;line-height:17.14px">11</b>
<b style="left:588.30px;top:289.01px;width:15.40px;height:17.14px;line-height:17.14px">4</b>
<b style="left:604.70px;top:289.01px;width:15.20px;height:17.14px;line-height:17.14px">1</b>
<b style="left:620.90px;top:289.01px;width:15.00px;height:17.14px;line-height:17.14px">19</b>
<b style="left:636.90px;top:289.01px;width:15.10px;height:17.14px;line-height:17.14px">53</b>
<b style="left:653.00px;top:289.01px;width:15.20px;height:17.14px;line-height:17.14px">7</b>
<b style="left:669.20px;top:289.01px;width:15.10px;height:17.14px;line-height:17.14px">3</b>
<b style="left:685.30px;top:289.01px;width:14.65px;height:17.14px;line-height:17.14px">28</b>
<b style="left:701.55px;top:289.01px;width:30.15px;height:17.14px;line-height:17.14px">29</b>
<b style="left:732.70px;top:289.01px;width:31.20px;height:17.14px;line-height:17.14px">9</b>
<b style="left:764.90px;top:289.01px;width:31.10px;height:17.14px;line-height:17.14px">9</b>
<b style="left:0.00px;top:306.15px;width:40.00px;height:17.14px;line-height:17.14px">23066</b>
<b style="left:42.00px;top:306.15px;width:19.00px;height:17.14px;line-height:17.14px">3</b>
<b style="left:63.00px;top:306.15px;width:14.80px;height:17.14px;line-height:17.14px">7</b>
<b style="left:78.80px;top:306.15px;width:15.20px;height:17.14px;line-height:17.14px">5</b>
<b style="left:95.00px;top:306.15px;width:15.20px;height:17.14px;line-height:17.14px">33</b>
<b style="left:127.10px;top:306.15px;width:14.90px;height:17.14px;line-height:17.14px">6</b>
<b style="left:143.00px;top:306.15px;width:14.90px;height:17.14px;line-height:17.14px">2</b>
<b style="left:158.90px;top:306.15px;width:15.90px;height:17.14px;line-height:17.14px">1</b>
<b style="left:175.80px;top:306.15px;width:15.20px;height:17.14px;line-height:17.14px">13</b>
<b style="left:192.00px;top:306.15px;width:14.80px;height:17.14px;line-height:17.14px">8</b>
<b style="left:207.80px;top:306.15px;width:15.25px;height:17.14px;line-height:17.14px">3</b>
<b style="left:224.15px;top:306.15px;width:19.85px;height:17.14px;line-height:17.14px">3</b>
<b class="c" style="left:265.95px;top:306.15px;width:20.05px;height:17.14px;line-height:17.14px;color:#f7731c">冷</b>
<b class="c" style="left:245.00px;top:306.15px;width:19.95px;height:17.14px;line-height:17.14px;color:#f7731c">否</b>
<b style="left:287.00px;top:306.15px;width:19.95px;height:17.14px;line-height:17.14px">3</b>
<b style="left:308.25px;top:306.15px;width:19.85px;height:17.14px;line-height:17.14px">4</b>
<b style="left:329.80px;top:306.15px;width:19.10px;height:17.14px;line-height:17.14px">1</b>
<b class="c" style="left:349.90px;top:306.15px;width:21.00px;height:17.14px;line-height:17.14px;color:#9060cc">小</b>
<b class="c" style="left:371.90px;top:306.15px;width:20.35px;height:17.14px;line-height:17.14px;color:#9060cc">奇</b>
<b style="left:393.25px;top:306.15px;width:19.65px;height:17.14px;line-height:17.14px">1</b>
<b class="c" style="left:413.90px;top:306.15px;width:20.05px;height:17.14px;line-height:17.14px;color:#9060cc">质</b>
<b style="left:434.95px;top:306.15px;width:19.85px;height:17.14px;line-height:17.14px">1</b>
<b class="c" style="left:455.80px;top:306.15px;width:19.90px;height:17.14px;line-height:17.14px;color:#9060cc">0路</b>
<b style="left:476.70px;top:306.15px;width:20.20px;height:17.14px;line-height:17.14px">5</b>
<b style="left:497.90px;top:306.15px;width:20.05px;height:17.14px;line-height:17.14px">2</b>
<b style="left:519.05px;top:306.15px;width:19.65px;height:17.14px;line-height:17.14px">3</b>
<b style="left:540.20px;top:306.15px;width:14.70px;height:17.14px;line-height:17.14px">3</b>
<b style="left:555.90px;top:306.15px;width:15.00px;height:17.14px;line-height:17.14px">1</b>
<b style="left:571.90px;top:306.15px;width:15.40px;height:17.14px;line-height:17.14px">12</b>
<b style="left:604.70px;top:306.15px;width:15.20px;height:17.14px;line-height:17.14px">2</b>
<b style="left:620.90px;top:306.15px;width:15.00px;height:17.14px;line-height:17.14px">20</b>
<b style="left:636.90px;top:306.15px;width:15.10px;height:17.14px;line-height:17.14px">54</b>
<b style="left:653.00px;top:306.15px;width:15.20px;height:17.14px;line-height:17.14px">8</b>
<b style="left:669.20px;top:306.15px;width:15.10px;height:17.14px;line-height:17.14px">4</b>
<b style="left:685.30px;top:306.15px;width:14.65px;height:17.14px;line-height:17.14px">29</b>
<b style="left:701.55px;top:306.15px;width:30.15px;height:17.14px;line-height:17.14px">24</b>
<b style="left:732.70px;top:306.15px;width:31.20px;height:17.14px;line-height:17.14px">4</b>
<b style="left:764.90px;top:306.15px;width:31.10px;height:17.14px;line-height:17.14px">6</b>
<b style="left:0.00px;top:323.29px;width:40.00px;height:17.14px;line-height:17.14px">23067</b>
<b style="left:42.00px;top:323.29px;width:19.00px;height:17.14px;line-height:17.14px">3</b>
<b style="left:63.00px;top:323.29px;width:14.80px;height:17.14px;line-height:17.14px">8</b>
<b style="left:78.80px;top:323.29px;width:15.20px;height:17.14px;line-height:17.14px">6</b>
<b style="left:95.00px;top:323.29px;width:15.20px;height:17.14px;line-height:17.14px">34</b>
<b style="left:127.10px;top:323.29px;width:14.90px;height:17.14px;line-height:17.14px">7</b>
<b style="left:143.00px;top:323.29px;width:14.90px;height:17.14px;line-height:17.14px">3</b>
<b style="left:158.90px;top:323.29px;width:15.90px;height:17.14px;line-height:17.14px">2</b>
<b style="left:175.80px;top:323.29px;width:15.20px;height:17.14px;line-height:17.14px">14</b>
<b style="left:192.00px;top:323.29px;width:14.80px;height:17.14px;line-height:17.14px">9</b>
<b style="left:207.80px;top:323.29px;width:15.25px;height:17.14px;line-height:17.14px">4</b>
<b class="c" style="left:224.15px;top:323.29px;width:19.85px;height:17.14px;line-height:17.14px;color:#f7731c">是</b>
<b style="left:265.95px;top:323.29px;width:20.05px;height:17.14px;line-height:17.14px">1</b>
<b style="left:245.00px;top:323.29px;width:19.95px;height:17.14px;line-height:17.14px">1</b>
<b class="c" style="left:287.00px;top:323.29px;width:19.95px;height:17.14px;line-height:17.14px;color:#f7731c">热</b>
<b style="left:308.25px;top:323.29px;width:19.85px;height:17.14px;line-height:17.14px">3</b>
<b style="left:329.80px;top:323.29px;width:19.10px;height:17.14px;line-height:17.14px">2</b>
<b class="c" style="left:349.90px;top:323.29px;width:21.00px;height:17.14px;line-height:17.14px;color:#9060cc">小</b>
<b class="c" style="left:371.90px;top:323.29px;width:20.35px;height:17.14px;line-height:17.14px;color:#9060cc">奇</b>
<b style="left:393.25px;top:323.29px;width:19.65px;height:17.14px;line-height:17.14px">2</b>
<b class="c" style="left:413.90px;top:323.29px;width:20.05px;height:17.14px;line-height:17.14px;color:#9060cc">质</b>
<b style="left:434.95px;top:323.29px;width:19.85px;height:17.14px;line-height:17.14px">2</b>
<b class="c" style="left:455.80px;top:323.29px;width:19.90px;height:17.14px;line-height:17.14px;color:#9060cc">0路</b>
<b style="left:476.70px;top:323.29px;width:20.20px;height:17.14px;line-height:17.14px">6</b>
<b style="left:497.90px;top:323.29px;width:20.05px;height:17.14px;line-height:17.14px">3</b>
<b style="left:519.05px;top:323.29px;width:19.65px;height:17.14px;line-height:17.14px">0</b>
<b style="left:555.90px;top:323.29px;width:15.00px;height:17.14px;line-height:17.14px">2</b>
<b style="left:571.90px;top:323.29px;width:15.40px;height:17.14px;line-height:17.14px">13</b>
<b style="left:588.30px;top:323.29px;width:15.40px;height:17.14px;line-height:17.14px">1</b>
<b style="left:604.70px;top:323.29px;width:15.20px;height:17.14px;line-height:17.14px">3</b>
<b style="left:620.90px;top:323.29px;width:15.00px;height:17.14px;line-height:17.14px">21</b>
<b style="left:636.90px;top:323.29px;width:15.10px;height:17.14px;line-height:17.14px">55</b>
<b style="left:653.00px;top:323.29px;width:15.20px;height:17.14px;line-height:17.14px">9</b>
<b style="left:669.20px;top:323.29px;width:15.10px;height:17.14px;line-height:17.14px">5</b>
<b style="left:685.30px;top:323.29px;width:14.65px;height:17.14px;line-height:17.14px">30</b>
<b style="left:701.55px;top:323.29px;width:30.15px;height:17.14px;line-height:17.14px">20</b>
<b style="left:732.70px;top:323.29px;width:31.20px;height:17.14px;line-height:17.14px">0</b>
<b style="left:764.90px;top:323.29px;width:31.10px;height:17.14px;line-height:17.14px">9</b>
<b style="left:0.00px;top:340.42px;width:40.00px;height:17.14px;line-height:17.14px">23068</b>
<b style="left:42.00px;top:340.42px;width:19.00px;height:17.14px;line-height:17.14px">1</b>
<b style="left:63.00px;top:340.42px;width:14.80px;height:17.14px;line-height:17.14px">9</b>
<b style="left:95.00px;top:340.42px;width:15.20px;height:17.14px;line-height:17.14px">35</b>
<b style="left:111.20px;top:340.42px;width:14.90px;height:17.14px;line-height:17.14px">1</b>
<b style="left:127.10px;top:340.42px;width:14.90px;height:17.14px;line-height:17.14px">8</b>
<b style="left:143.00px;top:340.42px;width:14.90px;height:17.14px;line-height:17.14px">4</b>
<b style="left:158.90px;top:340.42px;width:15.90px;height:17.14px;line-height:17.14px">3</b>
<b style="left:175.80px;top:340.42px;width:15.20px;height:17.14px;line-height:17.14px">15</b>
<b style="left:192.00px;top:340.42px;width:14.80px;height:17.14px;line-height:17.14px">10</b>
<b style="left:207.80px;top:340.42px;width:15.25px;height:17.14px;line-height:17.14px">5</b>
<b style="left:224.15px;top:340.42px;width:19.85px;height:17.14px;line-height:17.14px">1</b>
<b class="c" style="left:265.95px;top:340.42px;width:20.05px;height:17.14px;line-height:17.14px;color:#f7731c">冷</b>
<b class="c" style="left:245.00px;top:340.42px;width:19.95px;height:17.14px;line-height:17.14px;color:#f7731c">否</b>
<b style="left:287.00px;top:340.42px;width:19.95px;height:17.14px;line-height:17.14px">1</b>
<b style="left:308.25px;top:340.42px;width:19.85px;height:17.14px;line-height:17.14px">2</b>
<b style="left:329.80px;top:340.42px;width:19.10px;height:17.14px;line-height:17.14px">3</b>
<b class="c" style="left:349.90px;top:340.42px;width:21.00px;height:17.14px;line-height:17.14px;color:#9060cc">小</b>
<b class="c" style="left:371.90px;top:340.42px;width:20.35px;height:17.14px;line-height:17.14px;color:#9060cc">奇</b>
<b style="left:393.25px;top:340.42px;width:19.65px;height:17.14px;line-height:17.14px">3</b>
<b class="c" style="left:413.90px;top:340.42px;width:20.05px;height:17.14px;line-height:17.14px;color:#9060cc">质</b>
<b style="left:434.95px;top:340.42px;width:19.85px;height:17.14px;line-height:17.14px">3</b>
<b style="left:455.80px;top:340.42px;width:19.90px;height:17.14px;line-height:17.14px">1</b>
<b class="c" style="left:476.70px;top:340.42px;width:20.20px;height:17.14px;line-height:17.14px;color:#9060cc">1路</b>
<b style="left:497.90px;top:340.42px;width:20.05px;height:17.14px;line-height:17.14px">4</b>
<b style="left:519.05px;top:340.42px;width:19.65px;height:17.14px;line-height:17.14px">2</b>
<b style="left:540.20px;top:340.42px;width:14.70px;height:17.14px;line-height:17.14px">1</b>
<b style="left:555.90px;top:340.42px;width:15.00px;height:17.14px;line-height:17.14px">3</b>
<b style="left:588.30px;top:340.42px;width:15.40px;height:17.14px;line-height:17.14px">2</b>
<b style="left:604.70px;top:340.42px;width:15.20px;height:17.14px;line-height:17.14px">4</b>
<b style="left:620.90px;top:340.42px;width:15.00px;height:17.14px;line-height:17.14px">22</b>
<b style="left:636.90px;top:340.42px;width:15.10px;height:17.14px;line-height:17.14px">56</b>
<b style="left:653.00px;top:340.42px;width:15.20px;height:17.14px;line-height:17.14px">10</b>
<b style="left:669.20px;top:340.42px;width:15.10px;height:17.14px;line-height:17.14px">6</b>
<b style="left:685.30px;top:340.42px;width:14.65px;height:17.14px;line-height:17.14px">31</b>
<b style="left:701.55px;top:340.42px;width:30.15px;height:17.14px;line-height:17.14px">12</b>
<b style="left:732.70px;top:340.42px;width:31.20px;height:17.14px;line-height:17.14px">2</b>
<b style="left:764.90px;top:340.42px;width:31.10px;height:17.14px;line-height:17.14px">9</b>
<b style="left:0.00px;top:357.56px;width:40.00px;height:17.14px;line-height:17.14px">23069</b>
<b style="left:42.00px;top:357.56px;width:19.00px;height:17.14px;line-height:17.14px">8</b>
<b style="left:63.00px;top:357.56px;width:14.80px;height:17.14px;line-height:17.14px">10</b>
<b style="left:78.80px;top:357.56px;width:15.20px;height:17.14px;line-height:17.14px">1</b>
<b style="left:95.00px;top:357.56px;width:15.20px;height:17.14px;line-height:17.14px">36</b>
<b style="left:111.20px;top:357.56px;width:14.90px;height:17.14px;line-height:17.14px">2</b>
<b style="left:127.10px;top:357.56px;width:14.90px;height:17.14px;line-height:17.14px">9</b>
<b style="left:143.00px;top:357.56px;width:14.90px;height:17.14px;line-height:17.14px">5</b>
<b style="left:158.90px;top:357.56px;width:15.90px;height:17.14px;line-height:17.14px">4</b>
<b style="left:175.80px;top:357.56px;width:15.20px;height:17.14px;line-height:17.14px">16</b>
<b style="left:207.80px;top:357.56px;width:15.25px;height:17.14px;line-height:17.14px">6</b>
<b style="left:224.15px;top:357.56px;width:19.85px;height:17.14px;line-height:17.14px">2</b>
<b class="c" style="left:265.95px;top:357.56px;width:20.05px;height:17.14px;line-height:17.14px;color:#f7731c">冷</b>
<b class="c" style="left:245.00px;top:357.56px;width:19.95px;height:17.14px;line-height:17.14px;color:#f7731c">否</b>
<b style="left:287.00px;top:357.56px;width:19.95px;height:17.14px;line-height:17.14px">2</b>
<b style="left:308.25px;top:357.56px;width:19.85px;height:17.14px;line-height:17.14px">5</b>
<b class="c" style="left:329.80px;top:357.56px;width:19.10px;height:17.14px;line-height:17.14px;color:#9060cc">大</b>
<b style="left:349.90px;top:357.56px;width:21.00px;height:17.14px;line-height:17.14px">1</b>
<b style="left:371.90px;top:357.56px;width:20.35px;height:17.14px;line-height:17.14px">1</b>
<b class="c" style="left:393.25px;top:357.56px;width:19.65px;height:17.14px;line-height:17.14px;color:#9060cc">偶</b>
<b style="left:413.90px;top:357.56px;width:20.05px;height:17.14px;line-height:17.14px">1</b>
<b class="c" style="left:434.95px;top:357.56px;width:19.85px;height:17.14px;line-height:17.14px;color:#9060cc">合</b>
<b style="left:455.80px;top:357.56px;width:19.90px;height:17.14px;line-height:17.14px">2</b>
<b style="left:476.70px;top:357.56px;width:20.20px;height:17.14px;line-height:17.14px">1</b>
<b class="c" style="left:497.90px;top:357.56px;width:20.05px;height:17.14px;line-height:17.14px;color:#9060cc">2路</b>
<b style="left:519.05px;top:357.56px;width:19.65px;height:17.14px;line-height:17.14px">7</b>
<b style="left:540.20px;top:357.56px;width:14.70px;height:17.14px;line-height:17.14px">2</b>
<b style="left:555.90px;top:357.56px;width:15.00px;height:17.14px;line-height:17.14px">4</b>
<b style="left:571.90px;top:357.56px;width:15.40px;height:17.14px;line-height:17.14px">1</b>
<b style="left:588.30px;top:357.56px;width:15.40px;height:17.14px;line-height:17.14px">3</b>
<b style="left:604.70px;top:357.56px;width:15.20px;height:17.14px;line-height:17.14px">5</b>
<b style="left:620.90px;top:357.56px;width:15.00px;height:17.14px;line-height:17.14px">23</b>
<b style="left:636.90px;top:357.56px;width:15.10px;height:17.14px;line-height:17.14px">57</b>
<b style="left:669.20px;top:357.56px;width:15.10px;height:17.14px;line-height:17.14px">7</b>
<b style="left:685.30px;top:357.56px;width:14.65px;height:17.14px;line-height:17.14px">32</b>
<b style="left:701.55px;top:357.56px;width:30.15px;height:17.14px;line-height:17.14px">31</b>
<b style="left:732.70px;top:357.56px;width:31.20px;height:17.14px;line-height:17.14px">1</b>
<b style="left:764.90px;top:357.56px;width:31.10px;height:17.14px;line-height:17.14px">6</b>
<b style="left:0.00px;top:376.00px;width:40.00px;height:17.34px;line-height:17.34px">23070</b>
<b style="left:42.00px;top:376.00px;width:19.00px;height:17.34px;line-height:17.34px">2</b>
<b style="left:63.00px;top:376.00px;width:14.80px;height:17.34px;line-height:17.34px">11</b>
<b style="left:78.80px;top:376.00px;width:15.20px;height:17.34px;line-height:17.34px">2</b>
<b style="left:111.20px;top:376.00px;width:14.90px;height:17.34px;line-height:17.34px">3</b>
<b style="left:127.10px;top:376.00px;width:14.90px;height:17.34px;line-height:17.34px">10</b>
<b style="left:143.00px;top:376.00px;width:14.90px;height:17.34px;line-height:17.34px">6</b>
<b style="left:158.90px;top:376.00px;width:15.90px;height:17.34px;line-height:17.34px">5</b>
<b style="left:175.80px;top:376.00px;width:15.20px;height:17.34px;line-height:17.34px">17</b>
<b style="left:192.00px;top:376.00px;width:14.80px;height:17.34px;line-height:17.34px">1</b>
<b style="left:207.80px;top:376.00px;width:15.25px;height:17.34px;line-height:17.34px">7</b>
<b style="left:224.15px;top:376.00px;width:19.85px;height:17.34px;line-height:17.34px">3</b>
<b class="c" style="left:265.95px;top:376.00px;width:20.05px;height:17.34px;line-height:17.34px;color:#f7731c">冷</b>
<b class="c" style="left:245.00px;top:376.00px;width:19.95px;height:17.34px;line-height:17.34px;color:#f7731c">否</b>
<b style="left:287.00px;top:376.00px;width:19.95px;height:17.34px;line-height:17.34px">3</b>
<b style="left:308.25px;top:376.00px;width:19.85px;height:17.34px;line-height:17.34px">6</b>
<b style="left:329.80px;top:376.00px;width:19.10px;height:17.34px;line-height:17.34px">1</b>
<b class="c" style="left:349.90px;top:376.00px;width:21.00px;height:17.34px;line-height:17.34px;color:#9060cc">小</b>
<b style="left:371.90px;top:376.00px;width:20.35px;height:17.34px;line-height:17.34px">2</b>
<b class="c" style="left:393.25px;top:376.00px;width:19.65px;height:17.34px;line-height:17.34px;color:#9060cc">偶</b>
<b class="c" style="left:413.90px;top:376.00px;width:20.05px;height:17.34px;line-height:17.34px;color:#9060cc">质</b>
<b style="left:434.95px;top:376.00px;width:19.85px;height:17.34px;line-height:17.34px">1</b>
<b style="left:455.80px;top:376.00px;width:19.90px;height:17.34px;line-height:17.34px">3</b>
<b style="left:476.70px;top:376.00px;width:20.20px;height:17.34px;line-height:17.34px">2</b>
<b class="c" style="left:497.90px;top:376.00px;width:20.05px;height:17.34px;line-height:17.34px;color:#9060cc">2路</b>
<b style="left:519.05px;top:376.00px;width:19.65px;height:17.34px;line-height:17.34px">6</b>
<b style="left:540.20px;top:376.00px;width:14.70px;height:17.34px;line-height:17.34px">3</b>
<b style="left:555.90px;top:376.00px;width:15.00px;height:17.34px;line-height:17.34px">5</b>
<b style="left:571.90px;top:376.00px;width:15.40px;height:17.34px;line-height:17.34px">2</b>
<b style="left:588.30px;top:376.00px;width:15.40px;height:17.34px;line-height:17.34px">4</b>
<b style="left:604.70px;top:376.00px;width:15.20px;height:17.34px;line-height:17.34px">6</b>
<b style="left:620.90px;top:376.00px;width:15.00px;height:17.34px;line-height:17.34px">24</b>
<b style="left:653.00px;top:376.00px;width:15.20px;height:17.34px;line-height:17.34px">1</b>
<b style="left:669.20px;top:376.00px;width:15.10px;height:17.34px;line-height:17.34px">8</b>
<b style="left:685.30px;top:376.00px;width:14.65px;height:17.34px;line-height:17.34px">33</b>
<b style="left:701.55px;top:376.00px;width:30.15px;height:17.34px;line-height:17.34px">34</b>
<b style="left:732.70px;top:376.00px;width:31.20px;height:17.34px;line-height:17.34px">4</b>
<b style="left:764.90px;top:376.00px;width:31.10px;height:17.34px;line-height:17.34px">7</b>
<b style="left:0.00px;top:393.34px;width:40.00px;height:17.34px;line-height:17.34px">23071</b>
<b style="left:42.00px;top:393.34px;width:19.00px;height:17.34px;line-height:17.34px">3</b>
<b style="left:63.00px;top:393.34px;width:14.80px;height:17.34px;line-height:17.34px">12</b>
<b style="left:78.80px;top:393.34px;width:15.20px;height:17.34px;line-height:17.34px">3</b>
<b style="left:95.00px;top:393.34px;width:15.20px;height:17.34px;line-height:17.34px">1</b>
<b style="left:127.10px;top:393.34px;width:14.90px;height:17.34px;line-height:17.34px">11</b>
<b style="left:143.00px;top:393.34px;width:14.90px;height:17.34px;line-height:17.34px">7</b>
<b style="left:158.90px;top:393.34px;width:15.90px;height:17.34px;line-height:17.34px">6</b>
<b style="left:175.80px;top:393.34px;width:15.20px;height:17.34px;line-height:17.34px">18</b>
<b style="left:192.00px;top:393.34px;width:14.80px;height:17.34px;line-height:17.34px">2</b>
<b style="left:207.80px;top:393.34px;width:15.25px;height:17.34px;line-height:17.34px">8</b>
<b style="left:224.15px;top:393.34px;width:19.85px;height:17.34px;line-height:17.34px">4</b>
<b style="left:265.95px;top:393.34px;width:20.05px;height:17.34px;line-height:17.34px">1</b>
<b class="c" style="left:245.00px;top:393.34px;width:19.95px;height:17.34px;line-height:17.34px;color:#f7731c">否</b>
<b class="c" style="left:287.00px;top:393.34px;width:19.95px;height:17.34px;line-height:17.34px;color:#f7731c">热</b>
<b style="left:308.25px;top:393.34px;width:19.85px;height:17.34px;line-height:17.34px">5</b>
<b style="left:329.80px;top:393.34px;width:19.10px;height:17.34px;line-height:17.34px">2</b>
<b class="c" style="left:349.90px;top:393.34px;width:21.00px;height:17.34px;line-height:17.34px;color:#9060cc">小</b>
<b class="c" style="left:371.90px;top:393.34px;width:20.35px;height:17.34px;line-height:17.34px;color:#9060cc">奇</b>
<b style="left:393.25px;top:393.34px;width:19.65px;height:17.34px;line-height:17.34px">1</b>
<b class="c" style="left:413.90px;top:393.34px;width:20.05px;height:17.34px;line-height:17.34px;color:#9060cc">质</b>
<b style="left:434.95px;top:393.34px;width:19.85px;height:17.34px;line-height:17.34px">2</b>
<b class="c" style="left:455.80px;top:393.34px;width:19.90px;height:17.34px;line-height:17.34px;color:#9060cc">0路</b>
<b style="left:476.70px;top:393.34px;width:20.20px;height:17.34px;line-height:17.34px">3</b>
<b style="left:497.90px;top:393.34px;width:20.05px;height:17.34px;line-height:17.34px">1</b>
<b style="left:519.05px;top:393.34px;width:19.65px;height:17.34px;line-height:17.34px">1</b>
<b style="left:540.20px;top:393.34px;width:14.70px;height:17.34px;line-height:17.34px">4</b>
<b style="left:571.90px;top:393.34px;width:15.40px;height:17.34px;line-height:17.34px">3</b>
<b style="left:588.30px;top:393.34px;width:15.40px;height:17.34px;line-height:17.34px">5</b>
<b style="left:604.70px;top:393.34px;width:15.20px;height:17.34px;line-height:17.34px">7</b>
<b style="left:620.90px;top:393.34px;width:15.00px;height:17.34px;line-height:17.34px">25</b>
<b style="left:636.90px;top:393.34px;width:15.10px;height:17.34px;line-height:17.34px">1</b>
<b style="left:653.00px;top:393.34px;width:15.20px;height:17.34px;line-height:17.34px">2</b>
<b style="left:669.20px;top:393.34px;width:15.10px;height:17.34px;line-height:17.34px">9</b>
<b style="left:685.30px;top:393.34px;width:14.65px;height:17.34px;line-height:17.34px">34</b>
<b style="left:701.55px;top:393.34px;width:30.15px;height:17.34px;line-height:17.34px">28</b>
<b style="left:732.70px;top:393.34px;width:31.20px;height:17.34px;line-height:17.34px">8</b>
<b style="left:764.90px;top:393.34px;width:31.10px;height:17.34px;line-height:17.34px">8</b>
<b style="left:0.00px;top:410.68px;width:40.00px;height:17.34px;line-height:17.34px">23072</b>
<b style="left:42.00px;top:410.68px;width:19.00px;height:17.34px;line-height:17.34px">2</b>
<b style="left:63.00px;top:410.68px;width:14.80px;height:17.34px;line-height:17.34px">13</b>
<b style="left:78.80px;top:410.68px;width:15.20px;height:17.34px;line-height:17.34px">4</b>
<b style="left:111.20px;top:410.68px;width:14.90px;height:17.34px;line-height:17.34px">1</b>
<b style="left:127.10px;top:410.68px;width:14.90px;height:17.34px;line-height:17.34px">12</b>
<b style="left:143.00px;top:410.68px;width:14.90px;height:17.34px;line-height:17.34px">8</b>
<b style="left:158.90px;top:410.68px;width:15.90px;height:17.34px;line-height:17.34px">7</b>
<b style="left:175.80px;top:410.68px;width:15.20px;height:17.34px;line-height:17.34px">19</b>
<b style="left:192.00px;top:410.68px;width:14.80px;height:17.34px;line-height:17.34px">3</b>
<b style="left:207.80px;top:410.68px;width:15.25px;height:17.34px;line-height:17.34px">9</b>
<b style="left:224.15px;top:410.68px;width:19.85px;height:17.34px;line-height:17.34px">5</b>
<b style="left:265.95px;top:410.68px;width:20.05px;height:17.34px;line-height:17.34px">2</b>
<b class="c" style="left:245.00px;top:410.68px;width:19.95px;height:17.34px;line-height:17.34px;color:#f7731c">否</b>
<b class="c" style="left:287.00px;top:410.68px;width:19.95px;height:17.34px;line-height:17.34px;color:#f7731c">热</b>
<b style="left:308.25px;top:410.68px;width:19.85px;height:17.34px;line-height:17.34px">5</b>
<b style="left:329.80px;top:410.68px;width:19.10px;height:17.34px;line-height:17.34px">3</b>
<b class="c" style="left:349.90px;top:410.68px;width:21.00px;height:17.34px;line-height:17.34px;color:#9060cc">小</b>
<b style="left:371.90px;top:410.68px;width:20.35px;height:17.34px;line-height:17.34px">1</b>
<b class="c" style="left:393.25px;top:410.68px;width:19.65px;height:17.34px;line-height:17.34px;color:#9060cc">偶</b>
<b class="c" style="left:413.90px;top:410.68px;width:20.05px;height:17.34px;line-height:17.34px;color:#9060cc">质</b>
<b style="left:434.95px;top:410.68px;width:19.85px;height:17.34px;line-height:17.34px">3</b>
<b style="left:455.80px;top:410.68px;width:19.90px;height:17.34px;line-height:17.34px">1</b>
<b style="left:476.70px;top:410.68px;width:20.20px;height:17.34px;line-height:17.34px">4</b>
<b class="c" style="left:497.90px;top:410.68px;width:20.05px;height:17.34px;line-height:17.34px;color:#9060cc">2路</b>
<b style="left:519.05px;top:410.68px;width:19.65px;height:17.34px;line-height:17.34px">1</b>
<b style="left:540.20px;top:410.68px;width:14.70px;height:17.34px;line-height:17.34px">5</b>
<b style="left:571.90px;top:410.68px;width:15.40px;height:17.34px;line-height:17.34px">4</b>
<b style="left:588.30px;top:410.68px;width:15.40px;height:17.34px;line-height:17.34px">6</b>
<b style="left:604.70px;top:410.68px;width:15.20px;height:17.34px;line-height:17.34px">8</b>
<b style="left:620.90px;top:410.68px;width:15.00px;height:17.34px;line-height:17.34px">26</b>
<b style="left:636.90px;top:410.68px;width:15.10px;height:17.34px;line-height:17.34px">2</b>
<b style="left:653.00px;top:410.68px;width:15.20px;height:17.34px;line-height:17.34px">3</b>
<b style="left:669.20px;top:410.68px;width:15.10px;height:17.34px;line-height:17.34px">10</b>
<b style="left:685.30px;top:410.68px;width:14.65px;height:17.34px;line-height:17.34px">35</b>
<b style="left:701.55px;top:410.68px;width:30.15px;height:17.34px;line-height:17.34px">30</b>
<b style="left:732.70px;top:410.68px;width:31.20px;height:17.34px;line-height:17.34px">0</b>
<b style="left:764.90px;top:410.68px;width:31.10px;height:17.34px;line-height:17.34px">8</b>
<b style="left:0.00px;top:428.03px;width:40.00px;height:17.34px;line-height:17.34px">23073</b>
<b style="left:42.00px;top:428.03px;width:19.00px;height:17.34px;line-height:17.34px">7</b>
<b style="left:63.00px;top:428.03px;width:14.80px;height:17.34px;line-height:17.34px">14</b>
<b style="left:78.80px;top:428.03px;width:15.20px;height:17.34px;line-height:17.34px">5</b>
<b style="left:95.00px;top:428.03px;width:15.20px;height:17.34px;line-height:17.34px">1</b>
<b style="left:111.20px;top:428.03px;width:14.90px;height:17.34px;line-height:17.34px">2</b>
<b style="left:127.10px;top:428.03px;width:14.90px;height:17.34px;line-height:17.34px">13</b>
<b style="left:143.00px;top:428.03px;width:14.90px;height:17.34px;line-height:17.34px">9</b>
<b style="left:158.90px;top:428.03px;width:15.90px;height:17.34px;line-height:17.34px">8</b>
<b style="left:192.00px;top:428.03px;width:14.80px;height:17.34px;line-height:17.34px">4</b>
<b style="left:207.80px;top:428.03px;width:15.25px;height:17.34px;line-height:17.34px">10</b>
<b style="left:224.15px;top:428.03px;width:19.85px;height:17.34px;line-height:17.34px">6</b>
<b class="c" style="left:265.95px;top:428.03px;width:20.05px;height:17.34px;line-height:17.34px;color:#f7731c">冷</b>
<b class="c" style="left:245.00px;top:428.03px;width:19.95px;height:17.34px;line-height:17.34px;color:#f7731c">否</b>
<b style="left:287.00px;top:428.03px;width:19.95px;height:17.34px;line-height:17.34px">1</b>
<b style="left:308.25px;top:428.03px;width:19.85px;height:17.34px;line-height:17.34px">4</b>
<b class="c" style="left:329.80px;top:428.03px;width:19.10px;height:17.34px;line-height:17.34px;color:#9060cc">大</b>
<b style="left:349.90px;top:428.03px;width:21.00px;height:17.34px;line-height:17.34px">1</b>
<b class="c" style="left:371.90px;top:428.03px;width:20.35px;height:17.34px;line-height:17.34px;color:#9060cc">奇</b>
<b style="left:393.25px;top:428.03px;width:19.65px;height:17.34px;line-height:17.34px">1</b>
<b class="c" style="left:413.90px;top:428.03px;width:20.05px;height:17.34px;line-height:17.34px;color:#9060cc">质</b>
<b style="left:434.95px;top:428.03px;width:19.85px;height:17.34px;line-height:17.34px">4</b>
<b style="left:455.80px;top:428.03px;width:19.90px;height:17.34px;line-height:17.34px">2</b>
<b class="c" style="left:476.70px;top:428.03px;width:20.20px;height:17.34px;line-height:17.34px;color:#9060cc">1路</b>
<b style="left:497.90px;top:428.03px;width:20.05px;height:17.34px;line-height:17.34px">1</b>
<b style="left:519.05px;top:428.03px;width:19.65px;height:17.34px;line-height:17.34px">5</b>
<b style="left:540.20px;top:428.03px;width:14.70px;height:17.34px;line-height:17.34px">6</b>
<b style="left:555.90px;top:428.03px;width:15.00px;height:17.34px;line-height:17.34px">1</b>
<b style="left:571.90px;top:428.03px;width:15.40px;height:17.34px;line-height:17.34px">5</b>
<b style="left:588.30px;top:428.03px;width:15.40px;height:17.34px;line-height:17.34px">7</b>
<b style="left:604.70px;top:428.03px;width:15.20px;height:17.34px;line-height:17.34px">9</b>
<b style="left:636.90px;top:428.03px;width:15.10px;height:17.34px;line-height:17.34px">3</b>
<b style="left:653.00px;top:428.03px;width:15.20px;height:17.34px;line-height:17.34px">4</b>
<b style="left:669.20px;top:428.03px;width:15.10px;height:17.34px;line-height:17.34px">11</b>
<b style="left:685.30px;top:428.03px;width:14.65px;height:17.34px;line-height:17.34px">36</b>
<b style="left:701.55px;top:428.03px;width:30.15px;height:17.34px;line-height:17.34px">24</b>
<b style="left:732.70px;top:428.03px;width:31.20px;height:17.34px;line-height:17.34px">4</b>
<b style="left:764.90px;top:428.03px;width:31.10px;height:17.34px;line-height:17.34px">7</b>
<b style="left:0.00px;top:445.37px;width:40.00px;height:17.34px;line-height:17.34px">23074</b>
<b style="left:42.00px;top:445.37px;width:19.00px;height:17.34px;line-height:17.34px">6</b>
<b style="left:63.00px;top:445.37px;width:14.80px;height:17.34px;line-height:17.34px">15</b>
<b style="left:78.80px;top:445.37px;width:15.20px;height:17.34px;line-height:17.34px">6</b>
<b style="left:95.00px;top:445.37px;width:15.20px;height:17.34px;line-height:17.34px">2</b>
<b style="left:111.20px;top:445.37px;width:14.90px;height:17.34px;line-height:17.34px">3</b>
<b style="left:127.10px;top:445.37px;width:14.90px;height:17.34px;line-height:17.34px">14</b>
<b style="left:143.00px;top:445.37px;width:14.90px;height:17.34px;line-height:17.34px">10</b>
<b style="left:175.80px;top:445.37px;width:15.20px;height:17.34px;line-height:17.34px">1</b>
<b style="left:192.00px;top:445.37px;width:14.80px;height:17.34px;line-height:17.34px">5</b>
<b style="left:207.80px;top:445.37px;width:15.25px;height:17.34px;line-height:17.34px">11</b>
<b style="left:224.15px;top:445.37px;width:19.85px;height:17.34px;line-height:17.34px">7</b>
<b class="c" style="left:265.95px;top:445.37px;width:20.05px;height:17.34px;line-height:17.34px;color:#f7731c">冷</b>
<b class="c" style="left:245.00px;top:445.37px;width:19.95px;height:17.34px;line-height:17.34px;color:#f7731c">否</b>
<b style="left:287.00px;top:445.37px;width:19.95px;height:17.34px;line-height:17.34px">2</b>
<b style="left:308.25px;top:445.37px;width:19.85px;height:17.34px;line-height:17.34px">3</b>
<b class="c" style="left:329.80px;top:445.37px;width:19.10px;height:17.34px;line-height:17.34px;color:#9060cc">大</b>
<b style="left:349.90px;top:445.37px;width:21.00px;height:17.34px;line-height:17.34px">2</b>
<b style="left:371.90px;top:445.37px;width:20.35px;height:17.34px;line-height:17.34px">1</b>
<b class="c" style="left:393.25px;top:445.37px;width:19.65px;height:17.34px;line-height:17.34px;color:#9060cc">偶</b>
<b style="left:413.90px;top:445.37px;width:20.05px;height:17.34px;line-height:17.34px">1</b>
<b class="c" style="left:434.95px;top:445.37px;width:19.85px;height:17.34px;line-height:17.34px;color:#9060cc">合</b>
<b class="c" style="left:455.80px;top:445.37px;width:19.90px;height:17.34px;line-height:17.34px;color:#9060cc">0路</b>
<b style="left:476.70px;top:445.37px;width:20.20px;height:17.34px;line-height:17.34px">1</b>
<b style="left:497.90px;top:445.37px;width:20.05px;height:17.34px;line-height:17.34px">2</b>
<b style="left:519.05px;top:445.37px;width:19.65px;height:17.34px;line-height:17.34px">1</b>
<b style="left:540.20px;top:445.37px;width:14.70px;height:17.34px;line-height:17.34px">7</b>
<b style="left:571.90px;top:445.37px;width:15.40px;height:17.34px;line-height:17.34px">6</b>
<b style="left:588.30px;top:445.37px;width:15.40px;height:17.34px;line-height:17.34px">8</b>
<b style="left:604.70px;top:445.37px;width:15.20px;height:17.34px;line-height:17.34px">10</b>
<b style="left:620.90px;top:445.37px;width:15.00px;height:17.34px;line-height:17.34px">1</b>
<b style="left:636.90px;top:445.37px;width:15.10px;height:17.34px;line-height:17.34px">4</b>
<b style="left:653.00px;top:445.37px;width:15.20px;height:17.34px;line-height:17.34px">5</b>
<b style="left:669.20px;top:445.37px;width:15.10px;height:17.34px;line-height:17.34px">12</b>
<b style="left:685.30px;top:445.37px;width:14.65px;height:17.34px;line-height:17.34px">37</b>
<b style="left:701.55px;top:445.37px;width:30.15px;height:17.34px;line-height:17.34px">20</b>
<b style="left:732.70px;top:445.37px;width:31.20px;height:17.34px;line-height:17.34px">0</b>
<b style="left:764.90px;top:445.37px;width:31.10px;height:17.34px;line-height:17.34px">8</b>
<b style="left:0.00px;top:464.01px;width:40.00px;height:17.34px;line-height:17.34px">23075</b>
<b style="left:42.00px;top:464.01px;width:19.00px;height:17.34px;line-height:17.34px">3</b>
<b style="left:63.00px;top:464.01px;width:14.80px;height:17.34px;line-height:17.34px">16</b>
<b style="left:78.80px;top:464.01px;width:15.20px;height:17.34px;line-height:17.34px">7</b>
<b style="left:95.00px;top:464.01px;width:15.20px;height:17.34px;line-height:17.34px">3</b>
<b style="left:127.10px;top:464.01px;width:14.90px;height:17.34px;line-height:17.34px">15</b>
<b style="left:143.00px;top:464.01px;width:14.90px;height:17.34px;line-height:17.34px">11</b>
<b style="left:158.90px;top:464.01px;width:15.90px;height:17.34px;line-height:17.34px">1</b>
<b style="left:175.80px;top:464.01px;width:15.20px;height:17.34px;line-height:17.34px">2</b>
<b style="left:192.00px;top:464.01px;width:14.80px;height:17.34px;line-height:17.34px">6</b>
<b style="left:207.80px;top:464.01px;width:15.25px;height:17.34px;line-height:17.34px">12</b>
<b style="left:224.15px;top:464.01px;width:19.85px;height:17.34px;line-height:17.34px">8</b>
<b style="left:265.95px;top:464.01px;width:20.05px;height:17.34px;line-height:17.34px">1</b>
<b class="c" style="left:245.00px;top:464.01px;width:19.95px;height:17.34px;line-height:17.34px;color:#f7731c">否</b>
<b class="c" style="left:287.00px;top:464.01px;width:19.95px;height:17.34px;line-height:17.34px;color:#f7731c">热</b>
<b style="left:308.25px;top:464.01px;width:19.85px;height:17.34px;line-height:17.34px">4</b>
<b style="left:329.80px;top:464.01px;width:19.10px;height:17.34px;line-height:17.34px">1</b>
<b class="c" style="left:349.90px;top:464.01px;width:21.00px;height:17.34px;line-height:17.34px;color:#9060cc">小</b>
<b class="c" style="left:371.90px;top:464.01px;width:20.35px;height:17.34px;line-height:17.34px;color:#9060cc">奇</b>
<b style="left:393.25px;top:464.01px;width:19.65px;height:17.34px;line-height:17.34px">1</b>
<b class="c" style="left:413.90px;top:464.01px;width:20.05px;height:17.34px;line-height:17.34px;color:#9060cc">质</b>
<b style="left:434.95px;top:464.01px;width:19.85px;height:17.34px;line-height:17.34px">1</b>
<b class="c" style="left:455.80px;top:464.01px;width:19.90px;height:17.34px;line-height:17.34px;color:#9060cc">0路</b>
<b style="left:476.70px;top:464.01px;width:20.20px;height:17.34px;line-height:17.34px">2</b>
<b style="left:497.90px;top:464.01px;width:20.05px;height:17.34px;line-height:17.34px">3</b>
<b style="left:519.05px;top:464.01px;width:19.65px;height:17.34px;line-height:17.34px">3</b>
<b style="left:540.20px;top:464.01px;width:14.70px;height:17.34px;line-height:17.34px">8</b>
<b style="left:555.90px;top:464.01px;width:15.00px;height:17.34px;line-height:17.34px">1</b>
<b style="left:571.90px;top:464.01px;width:15.40px;height:17.34px;line-height:17.34px">7</b>
<b style="left:604.70px;top:464.01px;width:15.20px;height:17.34px;line-height:17.34px">11</b>
<b style="left:620.90px;top:464.01px;width:15.00px;height:17.34px;line-height:17.34px">2</b>
<b style="left:636.90px;top:464.01px;width:15.10px;height:17.34px;line-height:17.34px">5</b>
<b style="left:653.00px;top:464.01px;width:15.20px;height:17.34px;line-height:17.34px">6</b>
<b style="left:669.20px;top:464.01px;width:15.10px;height:17.34px;line-height:17.34px">13</b>
<b style="left:685.30px;top:464.01px;width:14.65px;height:17.34px;line-height:17.34px">38</b>
<b style="left:701.55px;top:464.01px;width:30.15px;height:17.34px;line-height:17.34px">24</b>
<b style="left:732.70px;top:464.01px;width:31.20px;height:17.34px;line-height:17.34px">4</b>
<b style="left:764.90px;top:464.01px;width:31.10px;height:17.34px;line-height:17.34px">8</b>
<b style="left:0.00px;top:481.35px;width:40.00px;height:17.34px;line-height:17.34px">23076</b>
<b style="left:42.00px;top:481.35px;width:19.00px;height:17.34px;line-height:17.34px">2</b>
<b style="left:63.00px;top:481.35px;width:14.80px;height:17.34px;line-height:17.34px">17</b>
<b style="left:78.80px;top:481.35px;width:15.20px;height:17.34px;line-height:17.34px">8</b>
<b style="left:111.20px;top:481.35px;width:14.90px;height:17.34px;line-height:17.34px">1</b>
<b style="left:127.10px;top:481.35px;width:14.90px;height:17.34px;line-height:17.34px">16</b>
<b style="left:143.00px;top:481.35px;width:14.90px;height:17.34px;line-height:17.34px">12</b>
<b style="left:158.90px;top:481.35px;width:15.90px;height:17.34px;line-height:17.34px">2</b>
<b style="left:175.80px;top:481.35px;width:15.20px;height:17.34px;line-height:17.34px">3</b>
<b style="left:192.00px;top:481.35px;width:14.80px;height:17.34px;line-height:17.34px">7</b>
<b style="left:207.80px;top:481.35px;width:15.25px;height:17.34px;line-height:17.34px">13</b>
<b style="left:224.15px;top:481.35px;width:19.85px;height:17.34px;line-height:17.34px">9</b>
<b style="left:265.95px;top:481.35px;width:20.05px;height:17.34px;line-height:17.34px">2</b>
<b class="c" style="left:245.00px;top:481.35px;width:19.95px;height:17.34px;line-height:17.34px;color:#f7731c">否</b>
<b class="c" style="left:287.00px;top:481.35px;width:19.95px;height:17.34px;line-height:17.34px;color:#f7731c">热</b>
<b style="left:308.25px;top:481.35px;width:19.85px;height:17.34px;line-height:17.34px">6</b>
<b style="left:329.80px;top:481.35px;width:19.10px;height:17.34px;line-height:17.34px">2</b>
<b class="c" style="left:349.90px;top:481.35px;width:21.00px;height:17.34px;line-height:17.34px;color:#9060cc">小</b>
<b style="left:371.90px;top:481.35px;width:20.35px;height:17.34px;line-height:17.34px">1</b>
<b class="c" style="left:393.25px;top:481.35px;width:19.65px;height:17.34px;line-height:17.34px;color:#9060cc">偶</b>
<b class="c" style="left:413.90px;top:481.35px;width:20.05px;height:17.34px;line-height:17.34px;color:#9060cc">质</b>
<b style="left:434.95px;top:481.35px;width:19.85px;height:17.34px;line-height:17.34px">2</b>
<b style="left:455.80px;top:481.35px;width:19.90px;height:17.34px;line-height:17.34px">1</b>
<b style="left:476.70px;top:481.35px;width:20.20px;height:17.34px;line-height:17.34px">3</b>
<b class="c" style="left:497.90px;top:481.35px;width:20.05px;height:17.34px;line-height:17.34px;color:#9060cc">2路</b>
<b style="left:519.05px;top:481.35px;width:19.65px;height:17.34px;line-height:17.34px">1</b>
<b style="left:540.20px;top:481.35px;width:14.70px;height:17.34px;line-height:17.34px">9</b>
<b style="left:571.90px;top:481.35px;width:15.40px;height:17.34px;line-height:17.34px">8</b>
<b style="left:588.30px;top:481.35px;width:15.40px;height:17.34px;line-height:17.34px">1</b>
<b style="left:604.70px;top:481.35px;width:15.20px;height:17.34px;line-height:17.34px">12</b>
<b style="left:620.90px;top:481.35px;width:15.00px;height:17.34px;line-height:17.34px">3</b>
<b style="left:636.90px;top:481.35px;width:15.10px;height:17.34px;line-height:17.34px">6</b>
<b style="left:653.00px;top:481.35px;width:15.20px;height:17.34px;line-height:17.34px">7</b>
<b style="left:669.20px;top:481.35px;width:15.10px;height:17.34px;line-height:17.34px">14</b>
<b style="left:685.30px;top:481.35px;width:14.65px;height:17.34px;line-height:17.34px">39</b>
<b style="left:701.55px;top:481.35px;width:30.15px;height:17.34px;line-height:17.34px">36</b>
<b style="left:732.70px;top:481.35px;width:31.20px;height:17.34px;line-height:17.34px">6</b>
<b style="left:764.90px;top:481.35px;width:31.10px;height:17.34px;line-height:17.34px">7</b>
<b style="left:0.00px;top:498.69px;width:40.00px;height:17.34px;line-height:17.34px">23077</b>
<b style="left:42.00px;top:498.69px;width:19.00px;height:17.34px;line-height:17.34px">1</b>
<b style="left:63.00px;top:498.69px;width:14.80px;height:17.34px;line-height:17.34px">18</b>
<b style="left:95.00px;top:498.69px;width:15.20px;height:17.34px;line-height:17.34px">1</b>
<b style="left:111.20px;top:498.69px;width:14.90px;height:17.34px;line-height:17.34px">2</b>
<b style="left:127.10px;top:498.69px;width:14.90px;height:17.34px;line-height:17.34px">17</b>
<b style="left:143.00px;top:498.69px;width:14.90px;height:17.34px;line-height:17.34px">13</b>
<b style="left:158.90px;top:498.69px;width:15.90px;height:17.34px;line-height:17.34px">3</b>
<b style="left:175.80px;top:498.69px;width:15.20px;height:17.34px;line-height:17.34px">4</b>
<b style="left:192.00px;top:498.69px;width:14.80px;height:17.34px;line-height:17.34px">8</b>
<b style="left:207.80px;top:498.69px;width:15.25px;height:17.34px;line-height:17.34px">14</b>
<b style="left:224.15px;top:498.69px;width:19.85px;height:17.34px;line-height:17.34px">10</b>
<b class="c" style="left:265.95px;top:498.69px;width:20.05px;height:17.34px;line-height:17.34px;color:#f7731c">冷</b>
<b class="c" style="left:245.00px;top:498.69px;width:19.95px;height:17.34px;line-height:17.34px;color:#f7731c">否</b>
<b style="left:287.00px;top:498.69px;width:19.95px;height:17.34px;line-height:17.34px">1</b>
<b style="left:308.25px;top:498.69px;width:19.85px;height:17.34px;line-height:17.34px">5</b>
<b style="left:329.80px;top:498.69px;width:19.10px;height:17.34px;line-height:17.34px">3</b>
<b class="c" style="left:349.90px;top:498.69px;width:21.00px;height:17.34px;line-height:17.34px;color:#9060cc">小</b>
<b class="c" style="left:371.90px;top:498.69px;width:20.35px;height:17.34px;line-height:17.34px;color:#9060cc">奇</b>
<b style="left:393.25px;top:498.69px;width:19.65px;height:17.34px;line-height:17.34px">1</b>
<b class="c" style="left:413.90px;top:498.69px;width:20.05px;height:17.34px;line-height:17.34px;color:#9060cc">质</b>
<b style="left:434.95px;top:498.69px;width:19.85px;height:17.34px;line-height:17.34px">3</b>
<b style="left:455.80px;top:498.69px;width:19.90px;height:17.34px;line-height:17.34px">2</b>
<b class="c" style="left:476.70px;top:498.69px;width:20.20px;height:17.34px;line-height:17.34px;color:#9060cc">1路</b>
<b style="left:497.90px;top:498.69px;width:20.05px;height:17.34px;line-height:17.34px">1</b>
<b style="left:519.05px;top:498.69px;width:19.65px;height:17.34px;line-height:17.34px">1</b>
<b style="left:540.20px;top:498.69px;width:14.70px;height:17.34px;line-height:17.34px">10</b>
<b style="left:571.90px;top:498.69px;width:15.40px;height:17.34px;line-height:17.34px">9</b>
<b style="left:588.30px;top:498.69px;width:15.40px;height:17.34px;line-height:17.34px">2</b>
<b style="left:604.70px;top:498.69px;width:15.20px;height:17.34px;line-height:17.34px">13</b>
<b style="left:620.90px;top:498.69px;width:15.00px;height:17.34px;line-height:17.34px">4</b>
<b style="left:636.90px;top:498.69px;width:15.10px;height:17.34px;line-height:17.34px">7</b>
<b style="left:653.00px;top:498.69px;width:15.20px;height:17.34px;line-height:17.34px">8</b>
<b style="left:669.20px;top:498.69px;width:15.10px;height:17.34px;line-height:17.34px">15</b>
<b style="left:685.30px;top:498.69px;width:14.65px;height:17.34px;line-height:17.34px">40</b>
<b style="left:701.55px;top:498.69px;width:30.15px;height:17.34px;line-height:17.34px">27</b>
<b style="left:732.70px;top:498.69px;width:31.20px;height:17.34px;line-height:17.34px">7</b>
<b style="left:764.90px;top:498.69px;width:31.10px;height:17.34px;line-height:17.34px">8</b>
<b style="left:0.00px;top:516.04px;width:40.00px;height:17.34px;line-height:17.34px">23078</b>
<b style="left:42.00px;top:516.04px;width:19.00px;height:17.34px;line-height:17.34px">7</b>
<b style="left:63.00px;top:516.04px;width:14.80px;height:17.34px;line-height:17.34px">19</b>
<b style="left:78.80px;top:516.04px;width:15.20px;height:17.34px;line-height:17.34px">1</b>
<b style="left:95.00px;top:516.04px;width:15.20px;height:17.34px;line-height:17.34px">2</b>
<b style="left:111.20px;top:516.04px;width:14.90px;height:17.34px;line-height:17.34px">3</b>
<b style="left:127.10px;top:516.04px;width:14.90px;height:17.34px;line-height:17.34px">18</b>
<b style="left:143.00px;top:516.04px;width:14.90px;height:17.34px;line-height:17.34px">14</b>
<b style="left:158.90px;top:516.04px;width:15.90px;height:17.34px;line-height:17.34px">4</b>
<b style="left:192.00px;top:516.04px;width:14.80px;height:17.34px;line-height:17.34px">9</b>
<b style="left:207.80px;top:516.04px;width:15.25px;height:17.34px;line-height:17.34px">15</b>
<b style="left:224.15px;top:516.04px;width:19.85px;height:17.34px;line-height:17.34px">11</b>
<b style="left:265.95px;top:516.04px;width:20.05px;height:17.34px;line-height:17.34px">1</b>
<b class="c" style="left:245.00px;top:516.04px;width:19.95px;height:17.34px;line-height:17.34px;color:#f7731c">否</b>
<b class="c" style="left:287.00px;top:516.04px;width:19.95px;height:17.34px;line-height:17.34px;color:#f7731c">热</b>
<b style="left:308.25px;top:516.04px;width:19.85px;height:17.34px;line-height:17.34px">4</b>
<b class="c" style="left:329.80px;top:516.04px;width:19.10px;height:17.34px;line-height:17.34px;color:#9060cc">大</b>
<b style="left:349.90px;top:516.04px;width:21.00px;height:17.34px;line-height:17.34px">1</b>
<b class="c" style="left:371.90px;top:516.04px;width:20.35px;height:17.34px;line-height:17.34px;color:#9060cc">奇</b>
<b style="left:393.25px;top:516.04px;width:19.65px;height:17.34px;line-height:17.34px">2</b>
<b class="c" style="left:413.90px;top:516.04px;width:20.05px;height:17.34px;line-height:17.34px;color:#9060cc">质</b>
<b style="left:434.95px;top:516.04px;width:19.85px;height:17.34px;line-height:17.34px">4</b>
<b style="left:455.80px;top:516.04px;width:19.90px;height:17.34px;line-height:17.34px">3</b>
<b class="c" style="left:476.70px;top:516.04px;width:20.20px;height:17.34px;line-height:17.34px;color:#9060cc">1路</b>
<b style="left:497.90px;top:516.04px;width:20.05px;height:17.34px;line-height:17.34px">2</b>
<b style="left:519.05px;top:516.04px;width:19.65px;height:17.34px;line-height:17.34px">6</b>
<b style="left:540.20px;top:516.04px;width:14.70px;height:17.34px;line-height:17.34px">11</b>
<b style="left:555.90px;top:516.04px;width:15.00px;height:17.34px;line-height:17.34px">1</b>
<b style="left:571.90px;top:516.04px;width:15.40px;height:17.34px;line-height:17.34px">10</b>
<b style="left:588.30px;top:516.04px;width:15.40px;height:17.34px;line-height:17.34px">3</b>
<b style="left:604.70px;top:516.04px;width:15.20px;height:17.34px;line-height:17.34px">14</b>
<b style="left:620.90px;top:516.04px;width:15.00px;height:17.34px;line-height:17.34px">5</b>
<b style="left:653.00px;top:516.04px;width:15.20px;height:17.34px;line-height:17.34px">9</b>
<b style="left:669.20px;top:516.04px;width:15.10px;height:17.34px;line-height:17.34px">16</b>
<b style="left:685.30px;top:516.04px;width:14.65px;height:17.34px;line-height:17.34px">41</b>
<b style="left:701.55px;top:516.04px;width:30.15px;height:17.34px;line-height:17.34px">21</b>
<b style="left:732.70px;top:516.04px;width:31.20px;height:17.34px;line-height:17.34px">1</b>
<b style="left:764.90px;top:516.04px;width:31.10px;height:17.34px;line-height:17.34px">6</b>
<b style="left:0.00px;top:533.38px;width:40.00px;height:17.34px;line-height:17.34px">23079</b>
<b style="left:42.00px;top:533.38px;width:19.00px;height:17.34px;line-height:17.34px">7</b>
<b style="left:63.00px;top:533.38px;width:14.80px;height:17.34px;line-height:17.34px">20</b>
<b style="left:78.80px;top:533.38px;width:15.20px;height:17.34px;line-height:17.34px">2</b>
<b style="left:95.00px;top:533.38px;width:15.20px;height:17.34px;line-height:17.34px">3</b>
<b style="left:111.20px;top:533.38px;width:14.90px;height:17.34px;line-height:17.34px">4</b>
<b style="left:127.10px;top:533.38px;width:14.90px;height:17.34px;line-height:17.34px">19</b>
<b style="left:143.00px;top:533.38px;width:14.90px;height:17.34px;line-height:17.34px">15</b>
<b style="left:158.90px;top:533.38px;width:15.90px;height:17.34px;line-height:17.34px">5</b>
<b style="left:192.00px;top:533.38px;width:14.80px;height:17.34px;line-height:17.34px">10</b>
<b style="left:207.80px;top:533.38px;width:15.25px;height:17.34px;line-height:17.34px">16</b>
<b class="c" style="left:224.15px;top:533.38px;width:19.85px;height:17.34px;line-height:17.34px;color:#f7731c">是</b>
<b style="left:265.95px;top:533.38px;width:20.05px;height:17.34px;line-height:17.34px">2</b>
<b style="left:245.00px;top:533.38px;width:19.95px;height:17.34px;line-height:17.34px">1</b>
<b class="c" style="left:287.00px;top:533.38px;width:19.95px;height:17.34px;line-height:17.34px;color:#f7731c">热</b>
<b style="left:308.25px;top:533.38px;width:19.85px;height:17.34px;line-height:17.34px">6</b>
<b class="c" style="left:329.80px;top:533.38px;width:19.10px;height:17.34px;line-height:17.34px;color:#9060cc">大</b>
<b style="left:349.90px;top:533.38px;width:21.00px;height:17.34px;line-height:17.34px">2</b>
<b class="c" style="left:371.90px;top:533.38px;width:20.35px;height:17.34px;line-height:17.34px;color:#9060cc">奇</b>
<b style="left:393.25px;top:533.38px;width:19.65px;height:17.34px;line-height:17.34px">3</b>
<b class="c" style="left:413.90px;top:533.38px;width:20.05px;height:17.34px;line-height:17.34px;color:#9060cc">质</b>
<b style="left:434.95px;top:533.38px;width:19.85px;height:17.34px;line-height:17.34px">5</b>
<b style="left:455.80px;top:533.38px;width:19.90px;height:17.34px;line-height:17.34px">4</b>
<b class="c" style="left:476.70px;top:533.38px;width:20.20px;height:17.34px;line-height:17.34px;color:#9060cc">1路</b>
<b style="left:497.90px;top:533.38px;width:20.05px;height:17.34px;line-height:17.34px">3</b>
<b style="left:519.05px;top:533.38px;width:19.65px;height:17.34px;line-height:17.34px">0</b>
<b style="left:555.90px;top:533.38px;width:15.00px;height:17.34px;line-height:17.34px">2</b>
<b style="left:571.90px;top:533.38px;width:15.40px;height:17.34px;line-height:17.34px">11</b>
<b style="left:588.30px;top:533.38px;width:15.40px;height:17.34px;line-height:17.34px">4</b>
<b style="left:604.70px;top:533.38px;width:15.20px;height:17.34px;line-height:17.34px">15</b>
<b style="left:620.90px;top:533.38px;width:15.00px;height:17.34px;line-height:17.34px">6</b>
<b style="left:636.90px;top:533.38px;width:15.10px;height:17.34px;line-height:17.34px">1</b>
<b style="left:653.00px;top:533.38px;width:15.20px;height:17.34px;line-height:17.34px">10</b>
<b style="left:669.20px;top:533.38px;width:15.10px;height:17.34px;line-height:17.34px">17</b>
<b style="left:685.30px;top:533.38px;width:14.65px;height:17.34px;line-height:17.34px">42</b>
<b style="left:701.55px;top:533.38px;width:30.15px;height:17.34px;line-height:17.34px">35</b>
<b style="left:732.70px;top:533.38px;width:31.20px;height:17.34px;line-height:17.34px">5</b>
<b style="left:764.90px;top:533.38px;width:31.10px;height:17.34px;line-height:17.34px">7</b>
<b class="c" style="left:0.00px;top:552.02px;width:40.00px;height:17.28px;line-height:17.28px;color:#9c1426;font-size:8.2px;letter-spacing:0;transform:scaleY(.95)">出现次数</b>
<b style="left:42.00px;top:552.02px;width:19.00px;height:17.28px;line-height:17.28px;color:#9c1426">-</b>
<b style="left:63.00px;top:552.02px;width:14.80px;height:17.28px;line-height:17.28px;color:#9c1426">1</b>
<b style="left:78.80px;top:552.02px;width:15.20px;height:17.28px;line-height:17.28px;color:#9c1426">4</b>
<b style="left:95.00px;top:552.02px;width:15.20px;height:17.28px;line-height:17.28px;color:#9c1426">3</b>
<b style="left:111.20px;top:552.02px;width:14.90px;height:17.28px;line-height:17.28px;color:#9c1426">4</b>
<b style="left:127.10px;top:552.02px;width:14.90px;height:17.28px;line-height:17.28px;color:#9c1426">1</b>
<b style="left:143.00px;top:552.02px;width:14.90px;height:17.28px;line-height:17.28px;color:#9c1426">2</b>
<b style="left:158.90px;top:552.02px;width:15.90px;height:17.28px;line-height:17.28px;color:#9c1426">3</b>
<b style="left:175.80px;top:552.02px;width:15.20px;height:17.28px;line-height:17.28px;color:#9c1426">4</b>
<b style="left:192.00px;top:552.02px;width:14.80px;height:17.28px;line-height:17.28px;color:#9c1426">4</b>
<b style="left:207.80px;top:552.02px;width:15.25px;height:17.28px;line-height:17.28px;color:#9c1426">4</b>
<b style="left:224.15px;top:552.02px;width:19.85px;height:17.28px;line-height:17.28px;color:#9c1426">3</b>
<b style="left:245.00px;top:552.02px;width:19.95px;height:17.28px;line-height:17.28px;color:#9c1426">27</b>
<b style="left:265.95px;top:552.02px;width:20.05px;height:17.28px;line-height:17.28px;color:#9c1426">18</b>
<b style="left:287.00px;top:552.02px;width:19.95px;height:17.28px;line-height:17.28px;color:#9c1426">12</b>
<b style="left:308.25px;top:552.02px;width:19.85px;height:17.28px;line-height:17.28px;color:#9c1426">-</b>
<b style="left:329.80px;top:552.02px;width:19.10px;height:17.28px;line-height:17.28px;color:#9c1426">17</b>
<b style="left:349.90px;top:552.02px;width:21.00px;height:17.28px;line-height:17.28px;color:#9c1426">13</b>
<b style="left:371.90px;top:552.02px;width:20.35px;height:17.28px;line-height:17.28px;color:#9c1426">18</b>
<b style="left:393.25px;top:552.02px;width:19.65px;height:17.28px;line-height:17.28px;color:#9c1426">12</b>
<b style="left:413.90px;top:552.02px;width:20.05px;height:17.28px;line-height:17.28px;color:#9c1426">17</b>
<b style="left:434.95px;top:552.02px;width:19.85px;height:17.28px;line-height:17.28px;color:#9c1426">13</b>
<b style="left:455.80px;top:552.02px;width:19.90px;height:17.28px;line-height:17.28px;color:#9c1426">12</b>
<b style="left:476.70px;top:552.02px;width:20.20px;height:17.28px;line-height:17.28px;color:#9c1426">9</b>
<b style="left:497.90px;top:552.02px;width:20.05px;height:17.28px;line-height:17.28px;color:#9c1426">9</b>
<b style="left:519.05px;top:552.02px;width:19.65px;height:17.28px;line-height:17.28px;color:#9c1426">-</b>
<b style="left:540.20px;top:552.02px;width:14.70px;height:17.28px;line-height:17.28px;color:#9c1426">3</b>
<b style="left:555.90px;top:552.02px;width:15.00px;height:17.28px;line-height:17.28px;color:#9c1426">8</b>
<b style="left:571.90px;top:552.02px;width:15.40px;height:17.28px;line-height:17.28px;color:#9c1426">2</b>
<b style="left:588.30px;top:552.02px;width:15.40px;height:17.28px;line-height:17.28px;color:#9c1426">6</b>
<b style="left:604.70px;top:552.02px;width:15.20px;height:17.28px;line-height:17.28px;color:#9c1426">3</b>
<b style="left:620.90px;top:552.02px;width:15.00px;height:17.28px;line-height:17.28px;color:#9c1426">1</b>
<b style="left:636.90px;top:552.02px;width:15.10px;height:17.28px;line-height:17.28px;color:#9c1426">2</b>
<b style="left:653.00px;top:552.02px;width:15.20px;height:17.28px;line-height:17.28px;color:#9c1426">3</b>
<b style="left:669.20px;top:552.02px;width:15.10px;height:17.28px;line-height:17.28px;color:#9c1426">2</b>
<b style="left:685.30px;top:552.02px;width:14.65px;height:17.28px;line-height:17.28px;color:#9c1426">0</b>
<b style="left:701.55px;top:552.02px;width:30.15px;height:17.28px;line-height:17.28px;color:#9c1426">-</b>
<b style="left:732.70px;top:552.02px;width:31.20px;height:17.28px;line-height:17.28px;color:#9c1426">-</b>
<b style="left:764.90px;top:552.02px;width:31.10px;height:17.28px;line-height:17.28px;color:#9c1426">-</b>
<svg width="801" height="569" viewBox="0 0 801 569">
<polyline points="199.40,34.48 215.43,51.86 166.85,69.22 183.40,86.59 215.43,103.96 150.45,122.52 199.40,139.68 86.40,156.82 199.40,173.97 70.40,191.12 134.55,209.67 86.40,227.01 215.43,244.36 215.43,261.70 150.45,279.04 166.85,297.58 118.65,314.72 118.65,331.86 86.40,348.99 199.40,366.13 102.60,384.67 118.65,402.01 102.60,419.36 183.40,436.70 166.85,454.04 118.65,472.68 102.60,490.02 86.40,507.37 183.40,524.71 183.40,542.05" fill="none" stroke="#e34a4a" stroke-width="1.1"/>
<polyline points="596.00,34.48 563.40,51.86 596.00,69.22 563.40,86.59 579.60,103.96 612.30,122.52 596.00,139.68 660.60,156.82 660.60,173.97 676.75,191.12 612.30,209.67 596.00,227.01 676.75,244.36 547.55,261.70 612.30,279.04 563.40,297.58 596.00,314.72 547.55,331.86 579.60,348.99 660.60,366.13 644.45,384.67 563.40,402.01 563.40,419.36 628.40,436.70 563.40,454.04 596.00,472.68 563.40,490.02 563.40,507.37 644.45,524.71 547.55,542.05" fill="none" stroke="#7069c8" stroke-width="1.0"/>
<circle cx="199.40" cy="34.48" r="6.75" fill="#f04444"/>
<text x="199.40" y="37.38" class="bt">8</text>
<circle cx="215.43" cy="51.86" r="6.75" fill="#f04444"/>
<text x="215.43" y="54.76" class="bt">9</text>
<circle cx="166.85" cy="69.22" r="6.75" fill="#f04444"/>
<text x="166.85" y="72.12" class="bt">6</text>
<circle cx="183.40" cy="86.59" r="6.75" fill="#f04444"/>
<text x="183.40" y="89.50" class="bt">7</text>
<circle cx="215.43" cy="103.96" r="6.75" fill="#f04444"/>
<text x="215.43" y="106.86" class="bt">9</text>
<circle cx="150.45" cy="122.52" r="6.75" fill="#f04444"/>
<text x="150.45" y="125.42" class="bt">5</text>
<circle cx="199.40" cy="139.68" r="6.75" fill="#f04444"/>
<text x="199.40" y="142.58" class="bt">8</text>
<circle cx="86.40" cy="156.82" r="6.75" fill="#f04444"/>
<text x="86.40" y="159.72" class="bt">1</text>
<circle cx="199.40" cy="173.97" r="6.75" fill="#f04444"/>
<text x="199.40" y="176.87" class="bt">8</text>
<circle cx="70.40" cy="191.12" r="6.75" fill="#f04444"/>
<text x="70.40" y="194.03" class="bt">0</text>
<circle cx="134.55" cy="209.67" r="6.75" fill="#f04444"/>
<text x="134.55" y="212.57" class="bt">4</text>
<circle cx="86.40" cy="227.01" r="6.75" fill="#f04444"/>
<text x="86.40" y="229.91" class="bt">1</text>
<circle cx="215.43" cy="244.36" r="6.75" fill="#f04444"/>
<text x="215.43" y="247.26" class="bt">9</text>
<circle cx="215.43" cy="261.70" r="6.75" fill="#f04444"/>
<text x="215.43" y="264.60" class="bt">9</text>
<circle cx="150.45" cy="279.04" r="6.75" fill="#f04444"/>
<text x="150.45" y="281.94" class="bt">5</text>
<circle cx="166.85" cy="297.58" r="6.75" fill="#f04444"/>
<text x="166.85" y="300.48" class="bt">6</text>
<circle cx="118.65" cy="314.72" r="6.75" fill="#f04444"/>
<text x="118.65" y="317.62" class="bt">3</text>
<circle cx="118.65" cy="331.86" r="6.75" fill="#f04444"/>
<text x="118.65" y="334.75" class="bt">3</text>
<circle cx="86.40" cy="348.99" r="6.75" fill="#f04444"/>
<text x="86.40" y="351.89" class="bt">1</text>
<circle cx="199.40" cy="366.13" r="6.75" fill="#f04444"/>
<text x="199.40" y="369.03" class="bt">8</text>
<circle cx="102.60" cy="384.67" r="6.75" fill="#f04444"/>
<text x="102.60" y="387.57" class="bt">2</text>
<circle cx="118.65" cy="402.01" r="6.75" fill="#f04444"/>
<text x="118.65" y="404.91" class="bt">3</text>
<circle cx="102.60" cy="419.36" r="6.75" fill="#f04444"/>
<text x="102.60" y="422.25" class="bt">2</text>
<circle cx="183.40" cy="436.70" r="6.75" fill="#f04444"/>
<text x="183.40" y="439.60" class="bt">7</text>
<circle cx="166.85" cy="454.04" r="6.75" fill="#f04444"/>
<text x="166.85" y="456.94" class="bt">6</text>
<circle cx="118.65" cy="472.68" r="6.75" fill="#f04444"/>
<text x="118.65" y="475.58" class="bt">3</text>
<circle cx="102.60" cy="490.02" r="6.75" fill="#f04444"/>
<text x="102.60" y="492.92" class="bt">2</text>
<circle cx="86.40" cy="507.37" r="6.75" fill="#f04444"/>
<text x="86.40" y="510.26" class="bt">1</text>
<circle cx="183.40" cy="524.71" r="6.75" fill="#f04444"/>
<text x="183.40" y="527.61" class="bt">7</text>
<circle cx="183.40" cy="542.05" r="6.75" fill="#f04444"/>
<text x="183.40" y="544.95" class="bt">7</text>
<circle cx="596.00" cy="34.48" r="6.75" fill="#5a80cc"/>
<text x="596.00" y="37.38" class="bt">3</text>
<circle cx="563.40" cy="51.86" r="6.75" fill="#5a80cc"/>
<text x="563.40" y="54.76" class="bt">1</text>
<circle cx="596.00" cy="69.22" r="6.75" fill="#5a80cc"/>
<text x="596.00" y="72.12" class="bt">3</text>
<circle cx="563.40" cy="86.59" r="6.75" fill="#5a80cc"/>
<text x="563.40" y="89.50" class="bt">1</text>
<circle cx="579.60" cy="103.96" r="6.75" fill="#5a80cc"/>
<text x="579.60" y="106.86" class="bt">2</text>
<circle cx="612.30" cy="122.52" r="6.75" fill="#5a80cc"/>
<text x="612.30" y="125.42" class="bt">4</text>
<circle cx="596.00" cy="139.68" r="6.75" fill="#5a80cc"/>
<text x="596.00" y="142.58" class="bt">3</text>
<circle cx="660.60" cy="156.82" r="6.75" fill="#5a80cc"/>
<text x="660.60" y="159.72" class="bt">7</text>
<circle cx="660.60" cy="173.97" r="6.75" fill="#5a80cc"/>
<text x="660.60" y="176.87" class="bt">7</text>
<circle cx="676.75" cy="191.12" r="6.75" fill="#5a80cc"/>
<text x="676.75" y="194.03" class="bt">8</text>
<circle cx="612.30" cy="209.67" r="6.75" fill="#5a80cc"/>
<text x="612.30" y="212.57" class="bt">4</text>
<circle cx="596.00" cy="227.01" r="6.75" fill="#5a80cc"/>
<text x="596.00" y="229.91" class="bt">3</text>
<circle cx="676.75" cy="244.36" r="6.75" fill="#5a80cc"/>
<text x="676.75" y="247.26" class="bt">8</text>
<circle cx="547.55" cy="261.70" r="6.75" fill="#5a80cc"/>
<text x="547.55" y="264.60" class="bt">0</text>
<circle cx="612.30" cy="279.04" r="6.75" fill="#5a80cc"/>
<text x="612.30" y="281.94" class="bt">4</text>
<circle cx="563.40" cy="297.58" r="6.75" fill="#5a80cc"/>
<text x="563.40" y="300.48" class="bt">1</text>
<circle cx="596.00" cy="314.72" r="6.75" fill="#5a80cc"/>
<text x="596.00" y="317.62" class="bt">3</text>
<circle cx="547.55" cy="331.86" r="6.75" fill="#5a80cc"/>
<text x="547.55" y="334.75" class="bt">0</text>
<circle cx="579.60" cy="348.99" r="6.75" fill="#5a80cc"/>
<text x="579.60" y="351.89" class="bt">2</text>
<circle cx="660.60" cy="366.13" r="6.75" fill="#5a80cc"/>
<text x="660.60" y="369.03" class="bt">7</text>
<circle cx="644.45" cy="384.67" r="6.75" fill="#5a80cc"/>
<text x="644.45" y="387.57" class="bt">6</text>
<circle cx="563.40" cy="402.01" r="6.75" fill="#5a80cc"/>
<text x="563.40" y="404.91" class="bt">1</text>
<circle cx="563.40" cy="419.36" r="6.75" fill="#5a80cc"/>
<text x="563.40" y="422.25" class="bt">1</text>
<circle cx="628.40" cy="436.70" r="6.75" fill="#5a80cc"/>
<text x="628.40" y="439.60" class="bt">5</text>
<circle cx="563.40" cy="454.04" r="6.75" fill="#5a80cc"/>
<text x="563.40" y="456.94" class="bt">1</text>
<circle cx="596.00" cy="472.68" r="6.75" fill="#5a80cc"/>
<text x="596.00" y="475.58" class="bt">3</text>
<circle cx="563.40" cy="490.02" r="6.75" fill="#5a80cc"/>
<text x="563.40" y="492.92" class="bt">1</text>
<circle cx="563.40" cy="507.37" r="6.75" fill="#5a80cc"/>
<text x="563.40" y="510.26" class="bt">1</text>
<circle cx="644.45" cy="524.71" r="6.75" fill="#5a80cc"/>
<text x="644.45" y="527.61" class="bt">6</text>
<circle cx="547.55" cy="542.05" r="6.75" fill="#5a80cc"/>
<text x="547.55" y="544.95" class="bt">0</text>
<polygon points="238.68,553.62 247.42,560.24 245.09,562.59 257.50,562.50 250.34,552.36 249.79,555.62 239.32,552.38" fill="#ff1a14"/>
<polygon points="295.05,545.96 283.00,553.58 281.74,550.53 277.00,562.00 289.12,559.34 286.33,557.57 295.95,547.04" fill="#ff1a14"/>
<polygon points="345.48,550.56 353.94,559.28 351.25,561.20 363.50,563.20 358.15,552.00 357.06,555.12 346.32,549.44" fill="#ff1a14"/>
<polygon points="382.58,544.66 395.85,557.05 393.16,558.97 405.40,561.00 400.08,549.78 398.98,552.90 383.42,543.54" fill="#ff1a14"/>
<polygon points="428.46,541.44 438.14,556.22 435.07,557.45 446.50,562.30 443.96,550.15 442.16,552.92 429.54,540.56" fill="#ff1a14"/>
<polygon points="486.80,533.99 484.57,552.76 481.44,551.70 487.00,562.80 492.94,551.90 489.77,552.85 488.20,534.01" fill="#ff1a14"/>
<polygon points="548.52,549.68 584.65,561.55 582.85,564.38 596.00,561.70 585.97,552.79 586.10,556.14 548.88,548.32" fill="#ff1a14"/>
<polygon points="627.30,449.81 626.08,547.53 623.18,547.27 629.30,558.50 635.17,547.13 632.28,547.47 628.90,449.79" fill="#ff1a14"/>
</svg>
</div>
</body></html>
